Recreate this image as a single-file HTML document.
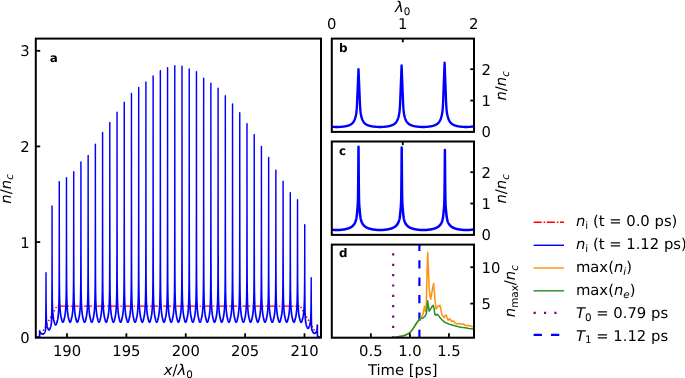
<!DOCTYPE html>
<html lang="en"><head><meta charset="utf-8"><title>Plasma density grating</title>
<style>html,body{margin:0;padding:0;background:#fff;overflow:hidden}svg{display:block}text{font-family:"DejaVu Sans", "Liberation Sans", sans-serif;fill:#000;text-rendering:geometricPrecision}.it{font-style:italic}.b{font-weight:bold}</style></head><body>
<svg width="685" height="378" viewBox="0 0 685 378">
<rect width="685" height="378" fill="#fff"/>
<defs>
<clipPath id="ca"><rect x="35.8" y="38.6" width="285.2" height="299.1"/></clipPath>
<clipPath id="cb"><rect x="331.8" y="38.6" width="142.2" height="93.3"/></clipPath>
<clipPath id="cc"><rect x="331.8" y="141.5" width="142.2" height="93.4"/></clipPath>
<clipPath id="cd"><rect x="331.8" y="244.6" width="142.2" height="93.1"/></clipPath>
</defs>
<g clip-path="url(#ca)" fill="none" stroke-linejoin="round">
<path d="M34.8,337.7L35.05,337.7L35.3,337.7L35.55,337.7L35.8,337.7L36.05,337.7L36.3,337.7L36.55,337.7L36.8,337.7L37.05,337.7L37.3,337.7L37.55,337.7L37.8,337.7L38.05,337.69L38.3,337.67L38.55,337.63L38.8,337.56L39.05,337.45L39.3,337.28L39.55,337.04L39.8,336.75L40.05,336.4L40.3,336L40.55,335.58L40.8,335.15L41.05,334.7L41.3,334.25L41.55,333.8L41.8,333.34L42.05,332.89L42.3,332.43L42.55,331.98L42.8,331.53L43.05,331.07L43.3,330.62L43.55,330.16L43.8,329.71L44.05,329.26L44.3,328.8L44.55,328.35L44.8,327.89L45.05,327.44L45.3,326.99L45.55,326.53L45.8,326.08L46.05,325.62L46.3,325.17L46.55,324.72L46.8,324.26L47.05,323.81L47.3,323.35L47.55,322.9L47.8,322.45L48.05,321.99L48.3,321.54L48.55,321.08L48.8,320.63L49.05,320.18L49.3,319.72L49.55,319.27L49.8,318.81L50.05,318.36L50.3,317.91L50.55,317.45L50.8,317L51.05,316.55L51.3,316.09L51.55,315.64L51.8,315.18L52.05,314.73L52.3,314.28L52.55,313.82L52.8,313.37L53.05,312.91L53.3,312.46L53.55,312.01L53.8,311.55L54.05,311.1L54.3,310.64L54.55,310.19L54.8,309.74L55.05,309.28L55.3,308.83L55.55,308.39L55.8,307.96L56.05,307.55L56.3,307.18L56.55,306.86L56.8,306.61L57.05,306.41L57.3,306.28" stroke="#ff0000" stroke-width="1.5" stroke-dasharray="1.5 2.2" stroke-dashoffset="-1"/>
<path d="M57.55,306.19L57.8,306.15L58.05,306.12L58.3,306.11L58.55,306.11L58.8,306.1L59.05,306.1L59.3,306.1L59.55,306.1L59.8,306.1L60.05,306.1L60.3,306.1L60.55,306.1L60.8,306.1L61.05,306.1L61.3,306.1L61.55,306.1L61.8,306.1L62.05,306.1L62.3,306.1L62.55,306.1L62.8,306.1L63.05,306.1L63.3,306.1L63.55,306.1L63.8,306.1L64.05,306.1L64.3,306.1L64.55,306.1L64.8,306.1L65.05,306.1L65.3,306.1L65.55,306.1L65.8,306.1L66.05,306.1L66.3,306.1L66.55,306.1L66.8,306.1L67.05,306.1L67.3,306.1L67.55,306.1L67.8,306.1L68.05,306.1L68.3,306.1L68.55,306.1L68.8,306.1L69.05,306.1L69.3,306.1L69.55,306.1L69.8,306.1L70.05,306.1L70.3,306.1L70.55,306.1L70.8,306.1L71.05,306.1L71.3,306.1L71.55,306.1L71.8,306.1L72.05,306.1L72.3,306.1L72.55,306.1L72.8,306.1L73.05,306.1L73.3,306.1L73.55,306.1L73.8,306.1L74.05,306.1L74.3,306.1L74.55,306.1L74.8,306.1L75.05,306.1L75.3,306.1L75.55,306.1L75.8,306.1L76.05,306.1L76.3,306.1L76.55,306.1L76.8,306.1L77.05,306.1L77.3,306.1L77.55,306.1L77.8,306.1L78.05,306.1L78.3,306.1L78.55,306.1L78.8,306.1L79.05,306.1L79.3,306.1L79.55,306.1L79.8,306.1L80.05,306.1L80.3,306.1L80.55,306.1L80.8,306.1L81.05,306.1L81.3,306.1L81.55,306.1L81.8,306.1L82.05,306.1L82.3,306.1L82.55,306.1L82.8,306.1L83.05,306.1L83.3,306.1L83.55,306.1L83.8,306.1L84.05,306.1L84.3,306.1L84.55,306.1L84.8,306.1L85.05,306.1L85.3,306.1L85.55,306.1L85.8,306.1L86.05,306.1L86.3,306.1L86.55,306.1L86.8,306.1L87.05,306.1L87.3,306.1L87.55,306.1L87.8,306.1L88.05,306.1L88.3,306.1L88.55,306.1L88.8,306.1L89.05,306.1L89.3,306.1L89.55,306.1L89.8,306.1L90.05,306.1L90.3,306.1L90.55,306.1L90.8,306.1L91.05,306.1L91.3,306.1L91.55,306.1L91.8,306.1L92.05,306.1L92.3,306.1L92.55,306.1L92.8,306.1L93.05,306.1L93.3,306.1L93.55,306.1L93.8,306.1L94.05,306.1L94.3,306.1L94.55,306.1L94.8,306.1L95.05,306.1L95.3,306.1L95.55,306.1L95.8,306.1L96.05,306.1L96.3,306.1L96.55,306.1L96.8,306.1L97.05,306.1L97.3,306.1L97.55,306.1L97.8,306.1L98.05,306.1L98.3,306.1L98.55,306.1L98.8,306.1L99.05,306.1L99.3,306.1L99.55,306.1L99.8,306.1L100.05,306.1L100.3,306.1L100.55,306.1L100.8,306.1L101.05,306.1L101.3,306.1L101.55,306.1L101.8,306.1L102.05,306.1L102.3,306.1L102.55,306.1L102.8,306.1L103.05,306.1L103.3,306.1L103.55,306.1L103.8,306.1L104.05,306.1L104.3,306.1L104.55,306.1L104.8,306.1L105.05,306.1L105.3,306.1L105.55,306.1L105.8,306.1L106.05,306.1L106.3,306.1L106.55,306.1L106.8,306.1L107.05,306.1L107.3,306.1L107.55,306.1L107.8,306.1L108.05,306.1L108.3,306.1L108.55,306.1L108.8,306.1L109.05,306.1L109.3,306.1L109.55,306.1L109.8,306.1L110.05,306.1L110.3,306.1L110.55,306.1L110.8,306.1L111.05,306.1L111.3,306.1L111.55,306.1L111.8,306.1L112.05,306.1L112.3,306.1L112.55,306.1L112.8,306.1L113.05,306.1L113.3,306.1L113.55,306.1L113.8,306.1L114.05,306.1L114.3,306.1L114.55,306.1L114.8,306.1L115.05,306.1L115.3,306.1L115.55,306.1L115.8,306.1L116.05,306.1L116.3,306.1L116.55,306.1L116.8,306.1L117.05,306.1L117.3,306.1L117.55,306.1L117.8,306.1L118.05,306.1L118.3,306.1L118.55,306.1L118.8,306.1L119.05,306.1L119.3,306.1L119.55,306.1L119.8,306.1L120.05,306.1L120.3,306.1L120.55,306.1L120.8,306.1L121.05,306.1L121.3,306.1L121.55,306.1L121.8,306.1L122.05,306.1L122.3,306.1L122.55,306.1L122.8,306.1L123.05,306.1L123.3,306.1L123.55,306.1L123.8,306.1L124.05,306.1L124.3,306.1L124.55,306.1L124.8,306.1L125.05,306.1L125.3,306.1L125.55,306.1L125.8,306.1L126.05,306.1L126.3,306.1L126.55,306.1L126.8,306.1L127.05,306.1L127.3,306.1L127.55,306.1L127.8,306.1L128.05,306.1L128.3,306.1L128.55,306.1L128.8,306.1L129.05,306.1L129.3,306.1L129.55,306.1L129.8,306.1L130.05,306.1L130.3,306.1L130.55,306.1L130.8,306.1L131.05,306.1L131.3,306.1L131.55,306.1L131.8,306.1L132.05,306.1L132.3,306.1L132.55,306.1L132.8,306.1L133.05,306.1L133.3,306.1L133.55,306.1L133.8,306.1L134.05,306.1L134.3,306.1L134.55,306.1L134.8,306.1L135.05,306.1L135.3,306.1L135.55,306.1L135.8,306.1L136.05,306.1L136.3,306.1L136.55,306.1L136.8,306.1L137.05,306.1L137.3,306.1L137.55,306.1L137.8,306.1L138.05,306.1L138.3,306.1L138.55,306.1L138.8,306.1L139.05,306.1L139.3,306.1L139.55,306.1L139.8,306.1L140.05,306.1L140.3,306.1L140.55,306.1L140.8,306.1L141.05,306.1L141.3,306.1L141.55,306.1L141.8,306.1L142.05,306.1L142.3,306.1L142.55,306.1L142.8,306.1L143.05,306.1L143.3,306.1L143.55,306.1L143.8,306.1L144.05,306.1L144.3,306.1L144.55,306.1L144.8,306.1L145.05,306.1L145.3,306.1L145.55,306.1L145.8,306.1L146.05,306.1L146.3,306.1L146.55,306.1L146.8,306.1L147.05,306.1L147.3,306.1L147.55,306.1L147.8,306.1L148.05,306.1L148.3,306.1L148.55,306.1L148.8,306.1L149.05,306.1L149.3,306.1L149.55,306.1L149.8,306.1L150.05,306.1L150.3,306.1L150.55,306.1L150.8,306.1L151.05,306.1L151.3,306.1L151.55,306.1L151.8,306.1L152.05,306.1L152.3,306.1L152.55,306.1L152.8,306.1L153.05,306.1L153.3,306.1L153.55,306.1L153.8,306.1L154.05,306.1L154.3,306.1L154.55,306.1L154.8,306.1L155.05,306.1L155.3,306.1L155.55,306.1L155.8,306.1L156.05,306.1L156.3,306.1L156.55,306.1L156.8,306.1L157.05,306.1L157.3,306.1L157.55,306.1L157.8,306.1L158.05,306.1L158.3,306.1L158.55,306.1L158.8,306.1L159.05,306.1L159.3,306.1L159.55,306.1L159.8,306.1L160.05,306.1L160.3,306.1L160.55,306.1L160.8,306.1L161.05,306.1L161.3,306.1L161.55,306.1L161.8,306.1L162.05,306.1L162.3,306.1L162.55,306.1L162.8,306.1L163.05,306.1L163.3,306.1L163.55,306.1L163.8,306.1L164.05,306.1L164.3,306.1L164.55,306.1L164.8,306.1L165.05,306.1L165.3,306.1L165.55,306.1L165.8,306.1L166.05,306.1L166.3,306.1L166.55,306.1L166.8,306.1L167.05,306.1L167.3,306.1L167.55,306.1L167.8,306.1L168.05,306.1L168.3,306.1L168.55,306.1L168.8,306.1L169.05,306.1L169.3,306.1L169.55,306.1L169.8,306.1L170.05,306.1L170.3,306.1L170.55,306.1L170.8,306.1L171.05,306.1L171.3,306.1L171.55,306.1L171.8,306.1L172.05,306.1L172.3,306.1L172.55,306.1L172.8,306.1L173.05,306.1L173.3,306.1L173.55,306.1L173.8,306.1L174.05,306.1L174.3,306.1L174.55,306.1L174.8,306.1L175.05,306.1L175.3,306.1L175.55,306.1L175.8,306.1L176.05,306.1L176.3,306.1L176.55,306.1L176.8,306.1L177.05,306.1L177.3,306.1L177.55,306.1L177.8,306.1L178.05,306.1L178.3,306.1L178.55,306.1L178.8,306.1L179.05,306.1L179.3,306.1L179.55,306.1L179.8,306.1L180.05,306.1L180.3,306.1L180.55,306.1L180.8,306.1L181.05,306.1L181.3,306.1L181.55,306.1L181.8,306.1L182.05,306.1L182.3,306.1L182.55,306.1L182.8,306.1L183.05,306.1L183.3,306.1L183.55,306.1L183.8,306.1L184.05,306.1L184.3,306.1L184.55,306.1L184.8,306.1L185.05,306.1L185.3,306.1L185.55,306.1L185.8,306.1L186.05,306.1L186.3,306.1L186.55,306.1L186.8,306.1L187.05,306.1L187.3,306.1L187.55,306.1L187.8,306.1L188.05,306.1L188.3,306.1L188.55,306.1L188.8,306.1L189.05,306.1L189.3,306.1L189.55,306.1L189.8,306.1L190.05,306.1L190.3,306.1L190.55,306.1L190.8,306.1L191.05,306.1L191.3,306.1L191.55,306.1L191.8,306.1L192.05,306.1L192.3,306.1L192.55,306.1L192.8,306.1L193.05,306.1L193.3,306.1L193.55,306.1L193.8,306.1L194.05,306.1L194.3,306.1L194.55,306.1L194.8,306.1L195.05,306.1L195.3,306.1L195.55,306.1L195.8,306.1L196.05,306.1L196.3,306.1L196.55,306.1L196.8,306.1L197.05,306.1L197.3,306.1L197.55,306.1L197.8,306.1L198.05,306.1L198.3,306.1L198.55,306.1L198.8,306.1L199.05,306.1L199.3,306.1L199.55,306.1L199.8,306.1L200.05,306.1L200.3,306.1L200.55,306.1L200.8,306.1L201.05,306.1L201.3,306.1L201.55,306.1L201.8,306.1L202.05,306.1L202.3,306.1L202.55,306.1L202.8,306.1L203.05,306.1L203.3,306.1L203.55,306.1L203.8,306.1L204.05,306.1L204.3,306.1L204.55,306.1L204.8,306.1L205.05,306.1L205.3,306.1L205.55,306.1L205.8,306.1L206.05,306.1L206.3,306.1L206.55,306.1L206.8,306.1L207.05,306.1L207.3,306.1L207.55,306.1L207.8,306.1L208.05,306.1L208.3,306.1L208.55,306.1L208.8,306.1L209.05,306.1L209.3,306.1L209.55,306.1L209.8,306.1L210.05,306.1L210.3,306.1L210.55,306.1L210.8,306.1L211.05,306.1L211.3,306.1L211.55,306.1L211.8,306.1L212.05,306.1L212.3,306.1L212.55,306.1L212.8,306.1L213.05,306.1L213.3,306.1L213.55,306.1L213.8,306.1L214.05,306.1L214.3,306.1L214.55,306.1L214.8,306.1L215.05,306.1L215.3,306.1L215.55,306.1L215.8,306.1L216.05,306.1L216.3,306.1L216.55,306.1L216.8,306.1L217.05,306.1L217.3,306.1L217.55,306.1L217.8,306.1L218.05,306.1L218.3,306.1L218.55,306.1L218.8,306.1L219.05,306.1L219.3,306.1L219.55,306.1L219.8,306.1L220.05,306.1L220.3,306.1L220.55,306.1L220.8,306.1L221.05,306.1L221.3,306.1L221.55,306.1L221.8,306.1L222.05,306.1L222.3,306.1L222.55,306.1L222.8,306.1L223.05,306.1L223.3,306.1L223.55,306.1L223.8,306.1L224.05,306.1L224.3,306.1L224.55,306.1L224.8,306.1L225.05,306.1L225.3,306.1L225.55,306.1L225.8,306.1L226.05,306.1L226.3,306.1L226.55,306.1L226.8,306.1L227.05,306.1L227.3,306.1L227.55,306.1L227.8,306.1L228.05,306.1L228.3,306.1L228.55,306.1L228.8,306.1L229.05,306.1L229.3,306.1L229.55,306.1L229.8,306.1L230.05,306.1L230.3,306.1L230.55,306.1L230.8,306.1L231.05,306.1L231.3,306.1L231.55,306.1L231.8,306.1L232.05,306.1L232.3,306.1L232.55,306.1L232.8,306.1L233.05,306.1L233.3,306.1L233.55,306.1L233.8,306.1L234.05,306.1L234.3,306.1L234.55,306.1L234.8,306.1L235.05,306.1L235.3,306.1L235.55,306.1L235.8,306.1L236.05,306.1L236.3,306.1L236.55,306.1L236.8,306.1L237.05,306.1L237.3,306.1L237.55,306.1L237.8,306.1L238.05,306.1L238.3,306.1L238.55,306.1L238.8,306.1L239.05,306.1L239.3,306.1L239.55,306.1L239.8,306.1L240.05,306.1L240.3,306.1L240.55,306.1L240.8,306.1L241.05,306.1L241.3,306.1L241.55,306.1L241.8,306.1L242.05,306.1L242.3,306.1L242.55,306.1L242.8,306.1L243.05,306.1L243.3,306.1L243.55,306.1L243.8,306.1L244.05,306.1L244.3,306.1L244.55,306.1L244.8,306.1L245.05,306.1L245.3,306.1L245.55,306.1L245.8,306.1L246.05,306.1L246.3,306.1L246.55,306.1L246.8,306.1L247.05,306.1L247.3,306.1L247.55,306.1L247.8,306.1L248.05,306.1L248.3,306.1L248.55,306.1L248.8,306.1L249.05,306.1L249.3,306.1L249.55,306.1L249.8,306.1L250.05,306.1L250.3,306.1L250.55,306.1L250.8,306.1L251.05,306.1L251.3,306.1L251.55,306.1L251.8,306.1L252.05,306.1L252.3,306.1L252.55,306.1L252.8,306.1L253.05,306.1L253.3,306.1L253.55,306.1L253.8,306.1L254.05,306.1L254.3,306.1L254.55,306.1L254.8,306.1L255.05,306.1L255.3,306.1L255.55,306.1L255.8,306.1L256.05,306.1L256.3,306.1L256.55,306.1L256.8,306.1L257.05,306.1L257.3,306.1L257.55,306.1L257.8,306.1L258.05,306.1L258.3,306.1L258.55,306.1L258.8,306.1L259.05,306.1L259.3,306.1L259.55,306.1L259.8,306.1L260.05,306.1L260.3,306.1L260.55,306.1L260.8,306.1L261.05,306.1L261.3,306.1L261.55,306.1L261.8,306.1L262.05,306.1L262.3,306.1L262.55,306.1L262.8,306.1L263.05,306.1L263.3,306.1L263.55,306.1L263.8,306.1L264.05,306.1L264.3,306.1L264.55,306.1L264.8,306.1L265.05,306.1L265.3,306.1L265.55,306.1L265.8,306.1L266.05,306.1L266.3,306.1L266.55,306.1L266.8,306.1L267.05,306.1L267.3,306.1L267.55,306.1L267.8,306.1L268.05,306.1L268.3,306.1L268.55,306.1L268.8,306.1L269.05,306.1L269.3,306.1L269.55,306.1L269.8,306.1L270.05,306.1L270.3,306.1L270.55,306.1L270.8,306.1L271.05,306.1L271.3,306.1L271.55,306.1L271.8,306.1L272.05,306.1L272.3,306.1L272.55,306.1L272.8,306.1L273.05,306.1L273.3,306.1L273.55,306.1L273.8,306.1L274.05,306.1L274.3,306.1L274.55,306.1L274.8,306.1L275.05,306.1L275.3,306.1L275.55,306.1L275.8,306.1L276.05,306.1L276.3,306.1L276.55,306.1L276.8,306.1L277.05,306.1L277.3,306.1L277.55,306.1L277.8,306.1L278.05,306.1L278.3,306.1L278.55,306.1L278.8,306.1L279.05,306.1L279.3,306.1L279.55,306.1L279.8,306.1L280.05,306.1L280.3,306.1L280.55,306.1L280.8,306.1L281.05,306.1L281.3,306.1L281.55,306.1L281.8,306.1L282.05,306.1L282.3,306.1L282.55,306.1L282.8,306.1L283.05,306.1L283.3,306.1L283.55,306.1L283.8,306.1L284.05,306.1L284.3,306.1L284.55,306.1L284.8,306.1L285.05,306.1L285.3,306.1L285.55,306.1L285.8,306.1L286.05,306.1L286.3,306.1L286.55,306.1L286.8,306.1L287.05,306.1L287.3,306.1L287.55,306.1L287.8,306.1L288.05,306.1L288.3,306.1L288.55,306.1L288.8,306.1L289.05,306.1L289.3,306.1L289.55,306.1L289.8,306.1L290.05,306.1L290.3,306.1L290.55,306.1L290.8,306.1L291.05,306.1L291.3,306.1L291.55,306.1L291.8,306.1L292.05,306.1L292.3,306.1L292.55,306.1L292.8,306.1L293.05,306.1L293.3,306.1L293.55,306.1L293.8,306.1L294.05,306.1L294.3,306.1L294.55,306.1L294.8,306.1L295.05,306.1L295.3,306.1L295.55,306.1L295.8,306.1L296.05,306.1L296.3,306.1L296.55,306.1L296.8,306.1L297.05,306.1L297.3,306.1L297.55,306.1L297.8,306.1L298.05,306.1L298.3,306.1L298.55,306.11L298.8,306.11L299.05,306.12L299.3,306.14L299.55,306.19" stroke="#ff0000" stroke-width="1.45" stroke-dasharray="8.1 1.9 1.6 1.6"/>
<path d="M299.8,306.27L300.05,306.4L300.3,306.58L300.55,306.83L300.8,307.13L301.05,307.48L301.3,307.87L301.55,308.28L301.8,308.7L302.05,309.13L302.3,309.56L302.55,309.99L302.8,310.42L303.05,310.85L303.3,311.28L303.55,311.72L303.8,312.15L304.05,312.58L304.3,313.01L304.55,313.44L304.8,313.87L305.05,314.31L305.3,314.74L305.55,315.17L305.8,315.6L306.05,316.03L306.3,316.46L306.55,316.89L306.8,317.33L307.05,317.76L307.3,318.19L307.55,318.62L307.8,319.05L308.05,319.48L308.3,319.92L308.55,320.35L308.8,320.78L309.05,321.21L309.3,321.64L309.55,322.07L309.8,322.51L310.05,322.94L310.3,323.37L310.55,323.8L310.8,324.23L311.05,324.66L311.3,325.1L311.55,325.53L311.8,325.96L312.05,326.39L312.3,326.82L312.55,327.25L312.8,327.69L313.05,328.12L313.3,328.55L313.55,328.98L313.8,329.41L314.05,329.84L314.3,330.28L314.55,330.71L314.8,331.14L315.05,331.57L315.3,332L315.55,332.43L315.8,332.87L316.05,333.3L316.3,333.73L316.55,334.16L316.8,334.59L317.05,335.02L317.3,335.44L317.55,335.85L317.8,336.24L318.05,336.6L318.3,336.92L318.55,337.17L318.8,337.37L319.05,337.51L319.3,337.6L319.55,337.65L319.8,337.68L320.05,337.69L320.3,337.7L320.55,337.7L320.8,337.7L321.05,337.7L321.3,337.7L321.55,337.7L321.8,337.7" stroke="#ff0000" stroke-width="1.5" stroke-dasharray="1.5 2.2" stroke-dashoffset="-1"/>
<defs><path id="ni" d="M35.8,337.18L35.9,337.19L36,337.2L36.1,337.21L36.2,337.21L36.3,337.22L36.4,337.22L36.5,337.22L36.6,337.22L36.7,337.22L36.8,337.22L36.9,337.21L37,337.21L37.1,337.2L37.2,337.19L37.3,337.18L37.4,337.16L37.5,337.15L37.6,337.13L37.7,337.12L37.8,337.1L37.9,337.09L38,337.07L38.1,337.06L38.2,337.04L38.3,337.02L38.4,337L38.5,336.97L38.6,336.94L38.7,336.91L38.8,336.87L38.9,336.83L39,336.78L39.1,336.72L39.2,336.63L39.3,336.52L39.4,336.35L39.5,336.01L39.6,335.09L39.65,333.98L39.68,332.62L39.7,330.9L39.7,330.9L39.72,331.06L39.75,331.27L39.8,331.58L39.9,332.08L40,332.39L40.1,332.59L40.2,332.75L40.3,332.89L40.4,333L40.5,333.09L40.6,333.18L40.7,333.25L40.8,333.33L40.9,333.39L41,333.46L41.1,333.52L41.2,333.57L41.3,333.62L41.4,333.67L41.5,333.71L41.6,333.76L41.7,333.81L41.8,333.85L41.9,333.9L42,333.94L42.1,333.99L42.2,334.03L42.3,334.07L42.4,334.1L42.5,334.12L42.6,334.14L42.7,334.15L42.8,334.16L42.9,334.16L43,334.15L43.1,334.12L43.2,334.08L43.3,334.03L43.4,333.97L43.5,333.9L43.6,333.81L43.7,333.71L43.8,333.6L43.9,333.49L44,333.39L44.1,333.27L44.2,333.16L44.3,333.04L44.4,332.92L44.5,332.78L44.6,332.63L44.7,332.45L44.8,332.25L44.9,332.03L45,331.78L45.1,331.5L45.2,331.18L45.3,330.78L45.4,330.29L45.5,329.63L45.6,328.72L45.7,327.36L45.8,324.64L45.9,316.79L45.95,306.59L45.98,292.7L46,272.7L46,272.7L46.02,283.4L46.05,293.85L46.1,304.06L46.2,314.08L46.3,318.04L46.4,320.2L46.5,321.73L46.6,322.86L46.7,323.72L46.8,324.42L46.9,325L47,325.52L47.1,325.97L47.2,326.39L47.3,326.77L47.4,327.1L47.5,327.38L47.6,327.64L47.7,327.89L47.8,328.12L47.9,328.35L48,328.58L48.1,328.8L48.2,329.03L48.3,329.23L48.4,329.42L48.5,329.58L48.6,329.71L48.7,329.81L48.8,329.88L48.9,329.93L49,329.95L49.1,329.94L49.2,329.91L49.3,329.84L49.4,329.75L49.5,329.62L49.6,329.46L49.7,329.28L49.8,329.06L49.9,328.83L50,328.58L50.1,328.34L50.2,328.09L50.3,327.83L50.4,327.56L50.5,327.28L50.6,326.98L50.7,326.64L50.8,326.24L50.9,325.78L51,325.28L51.1,324.72L51.2,324.07L51.3,323.31L51.4,322.38L51.5,321.19L51.6,319.53L51.7,317.24L51.8,313.44L51.9,303.79L52,273.25L52,271.59L52.03,245.32L52.05,205.9L52.07,228.6L52.1,250.5L52.1,251.93L52.2,284.29L52.3,297.85L52.4,303.7L52.5,307.17L52.6,309.67L52.7,311.62L52.8,313.11L52.9,314.32L53,315.34L53.1,316.22L53.2,316.99L53.3,317.69L53.4,318.33L53.5,318.92L53.6,319.47L53.7,319.95L53.8,320.37L53.9,320.76L54,321.12L54.1,321.46L54.2,321.8L54.3,322.13L54.4,322.46L54.5,322.78L54.6,323.1L54.7,323.41L54.8,323.7L54.9,323.97L55,324.2L55.1,324.4L55.2,324.57L55.3,324.7L55.4,324.8L55.5,324.86L55.6,324.9L55.7,324.9L55.8,324.87L55.9,324.81L56,324.71L56.1,324.58L56.2,324.42L56.3,324.22L56.4,323.99L56.5,323.72L56.6,323.43L56.7,323.11L56.8,322.78L56.9,322.46L57,322.13L57.1,321.79L57.2,321.44L57.3,321.09L57.4,320.72L57.5,320.33L57.6,319.9L57.7,319.42L57.8,318.86L57.9,318.25L58,317.6L58.1,316.89L58.2,316.09L58.3,315.2L58.4,314.16L58.5,312.93L58.6,311.42L58.7,309.45L58.8,306.89L58.9,303.39L59,297.67L59.1,284.37L59.2,252.03L59.22,241.1L59.25,212.88L59.27,181.6L59.29,207.96L59.3,220.19L59.32,233.58L59.4,268.64L59.5,287.44L59.6,295.62L59.7,300.16L59.8,303.32L59.9,305.8L60,307.67L60.1,309.18L60.2,310.45L60.3,311.54L60.4,312.49L60.5,313.35L60.6,314.13L60.7,314.85L60.8,315.53L60.9,316.13L61,316.64L61.1,317.11L61.2,317.55L61.3,317.98L61.4,318.39L61.5,318.79L61.6,319.18L61.7,319.56L61.8,319.95L61.9,320.33L62,320.69L62.1,321.02L62.2,321.31L62.3,321.56L62.4,321.77L62.5,321.93L62.6,322.06L62.7,322.15L62.8,322.2L62.9,322.21L63,322.18L63.1,322.11L63.2,322.01L63.3,321.86L63.4,321.68L63.5,321.45L63.6,321.18L63.7,320.87L63.8,320.53L63.9,320.16L64,319.77L64.1,319.38L64.2,318.99L64.3,318.6L64.4,318.19L64.5,317.77L64.6,317.34L64.7,316.89L64.8,316.4L64.9,315.85L65,315.21L65.1,314.5L65.2,313.75L65.3,312.93L65.4,312.03L65.5,311.01L65.6,309.84L65.7,308.47L65.8,306.8L65.9,304.67L66,301.88L66.1,298.2L66.2,292.47L66.3,280.23L66.4,252.52L66.44,231.99L66.47,205.4L66.49,177.8L66.5,196.41L66.51,205.4L66.54,231.99L66.6,262.05L66.7,284.39L66.8,294.21L66.9,299.25L67,302.64L67.1,305.27L67.2,307.26L67.3,308.84L67.4,310.15L67.5,311.28L67.6,312.27L67.7,313.14L67.8,313.94L67.9,314.68L68,315.38L68.1,315.99L68.2,316.52L68.3,317.01L68.4,317.45L68.5,317.88L68.6,318.29L68.7,318.7L68.8,319.09L68.9,319.48L69,319.87L69.1,320.25L69.2,320.62L69.3,320.95L69.4,321.25L69.5,321.51L69.6,321.73L69.7,321.9L69.8,322.04L69.9,322.13L70,322.19L70.1,322.21L70.2,322.19L70.3,322.13L70.4,322.03L70.5,321.89L70.6,321.71L70.7,321.49L70.8,321.23L70.9,320.93L71,320.59L71.1,320.23L71.2,319.84L71.3,319.45L71.4,319.06L71.5,318.66L71.6,318.25L71.7,317.83L71.8,317.4L71.9,316.95L72,316.47L72.1,315.93L72.2,315.3L72.3,314.6L72.4,313.85L72.5,313.04L72.6,312.15L72.7,311.15L72.8,310.01L72.9,308.66L73,307.05L73.1,305L73.2,302.31L73.3,298.82L73.4,293.55L73.5,283.07L73.6,259.05L73.66,229.51L73.69,201.35L73.7,184.15L73.71,171.7L73.73,201.35L73.76,229.51L73.8,253.24L73.9,280.55L74,292.51L74.1,298.18L74.2,301.85L74.3,304.65L74.4,306.78L74.5,308.44L74.6,309.82L74.7,310.99L74.8,312.01L74.9,312.92L75,313.74L75.1,314.49L75.2,315.2L75.3,315.84L75.4,316.39L75.5,316.88L75.6,317.34L75.7,317.77L75.8,318.19L75.9,318.6L76,319L76.1,319.39L76.2,319.78L76.3,320.17L76.4,320.54L76.5,320.88L76.6,321.19L76.7,321.46L76.8,321.68L76.9,321.87L77,322.01L77.1,322.12L77.2,322.18L77.3,322.21L77.4,322.19L77.5,322.14L77.6,322.05L77.7,321.92L77.8,321.75L77.9,321.54L78,321.28L78.1,320.99L78.2,320.65L78.3,320.29L78.4,319.9L78.5,319.51L78.6,319.12L78.7,318.71L78.8,318.31L78.9,317.89L79,317.46L79.1,317.01L79.2,316.52L79.3,315.99L79.4,315.38L79.5,314.68L79.6,313.94L79.7,313.13L79.8,312.25L79.9,311.26L80,310.13L80.1,308.81L80.2,307.23L80.3,305.26L80.4,302.65L80.5,299.29L80.6,294.39L80.7,285.31L80.8,264.03L80.88,225.7L80.9,204.16L80.91,195.02L80.93,162L80.95,195.02L80.98,225.7L81,240.89L81.1,275.64L81.2,290.4L81.3,296.89L81.4,300.93L81.5,303.92L81.6,306.22L81.7,307.98L81.8,309.43L81.9,310.66L82,311.72L82.1,312.66L82.2,313.5L82.3,314.28L82.4,315L82.5,315.67L82.6,316.24L82.7,316.75L82.8,317.21L82.9,317.65L83,318.08L83.1,318.49L83.2,318.9L83.3,319.29L83.4,319.68L83.5,320.08L83.6,320.46L83.7,320.81L83.8,321.13L83.9,321.4L84,321.64L84.1,321.83L84.2,321.99L84.3,322.1L84.4,322.17L84.5,322.21L84.6,322.2L84.7,322.16L84.8,322.07L84.9,321.95L85,321.79L85.1,321.58L85.2,321.33L85.3,321.05L85.4,320.72L85.5,320.36L85.6,319.97L85.7,319.57L85.8,319.18L85.9,318.78L86,318.37L86.1,317.95L86.2,317.52L86.3,317.08L86.4,316.6L86.5,316.07L86.6,315.48L86.7,314.79L86.8,314.05L86.9,313.25L87,312.37L87.1,311.4L87.2,310.29L87.3,309.01L87.4,307.47L87.5,305.58L87.6,303.07L87.7,299.86L87.8,295.31L87.9,287.46L88,268.81L88.1,223.21L88.1,221L88.13,190.8L88.15,155.4L88.17,190.8L88.2,223.21L88.2,225.33L88.3,270.18L88.4,288.05L88.5,295.61L88.6,300.05L88.7,303.22L88.8,305.69L88.9,307.56L89,309.08L89.1,310.36L89.2,311.46L89.3,312.42L89.4,313.29L89.5,314.09L89.6,314.82L89.7,315.51L89.8,316.1L89.9,316.62L90,317.1L90.1,317.55L90.2,317.98L90.3,318.39L90.4,318.8L90.5,319.2L90.6,319.59L90.7,319.99L90.8,320.38L90.9,320.74L91,321.06L91.1,321.35L91.2,321.59L91.3,321.8L91.4,321.96L91.5,322.08L91.6,322.16L91.7,322.2L91.8,322.2L91.9,322.17L92,322.09L92.1,321.98L92.2,321.82L92.3,321.62L92.4,321.38L92.5,321.1L92.6,320.78L92.7,320.42L92.8,320.04L92.9,319.64L93,319.24L93.1,318.84L93.2,318.43L93.3,318.01L93.4,317.58L93.5,317.13L93.6,316.66L93.7,316.14L93.8,315.55L93.9,314.87L94,314.13L94.1,313.34L94.2,312.47L94.3,311.51L94.4,310.42L94.5,309.15L94.6,307.65L94.7,305.82L94.8,303.42L94.9,300.29L95,296.02L95.1,289.02L95.2,272.7L95.3,232.69L95.32,219.13L95.35,183.78L95.37,144.2L95.39,183.78L95.4,201.1L95.42,219.13L95.5,263.18L95.6,284.92L95.7,294.02L95.8,298.99L95.9,302.41L96,305.06L96.1,307.06L96.2,308.66L96.3,310L96.4,311.15L96.5,312.15L96.6,313.05L96.7,313.86L96.8,314.62L96.9,315.33L97,315.94L97.1,316.48L97.2,316.97L97.3,317.43L97.4,317.86L97.5,318.28L97.6,318.7L97.7,319.1L97.8,319.5L97.9,319.9L98,320.29L98.1,320.66L98.2,320.99L98.3,321.29L98.4,321.54L98.5,321.76L98.6,321.93L98.7,322.06L98.8,322.15L98.9,322.2L99,322.21L99.1,322.18L99.2,322.11L99.3,322L99.4,321.85L99.5,321.66L99.6,321.43L99.7,321.15L99.8,320.84L99.9,320.49L100,320.1L100.1,319.7L100.2,319.3L100.3,318.9L100.4,318.49L100.5,318.07L100.6,317.64L100.7,317.19L100.8,316.72L100.9,316.2L101,315.63L101.1,314.96L101.2,314.22L101.3,313.43L101.4,312.57L101.5,311.62L101.6,310.55L101.7,309.3L101.8,307.84L101.9,306.06L102,303.76L102.1,300.72L102.2,296.69L102.3,290.3L102.4,276.26L102.5,242.3L102.54,215.05L102.57,176.58L102.59,132.4L102.6,162.83L102.61,176.58L102.64,215.05L102.7,254.4L102.8,281.13L102.9,292.27L103,297.86L103.1,301.55L103.2,304.4L103.3,306.55L103.4,308.23L103.5,309.64L103.6,310.83L103.7,311.87L103.8,312.8L103.9,313.64L104,314.42L104.1,315.14L104.2,315.78L104.3,316.34L104.4,316.84L104.5,317.3L104.6,317.75L104.7,318.18L104.8,318.59L104.9,319L105,319.4L105.1,319.8L105.2,320.2L105.3,320.58L105.4,320.92L105.5,321.23L105.6,321.49L105.7,321.72L105.8,321.9L105.9,322.03L106,322.13L106.1,322.19L106.2,322.21L106.3,322.19L106.4,322.13L106.5,322.03L106.6,321.89L106.7,321.7L106.8,321.48L106.9,321.21L107,320.9L107.1,320.55L107.2,320.17L107.3,319.77L107.4,319.37L107.5,318.97L107.6,318.56L107.7,318.13L107.8,317.7L107.9,317.26L108,316.79L108.1,316.28L108.2,315.72L108.3,315.06L108.4,314.33L108.5,313.55L108.6,312.7L108.7,311.76L108.8,310.7L108.9,309.48L109,308.05L109.1,306.33L109.2,304.13L109.3,301.2L109.4,297.38L109.5,291.54L109.6,279.6L109.7,250.68L109.76,211.78L109.79,170.69L109.8,143.25L109.81,122.5L109.83,170.69L109.86,211.78L109.9,243.39L110,276.71L110.1,290.38L110.2,296.69L110.3,300.71L110.4,303.74L110.5,306.04L110.6,307.82L110.7,309.29L110.8,310.53L110.9,311.61L111,312.56L111.1,313.43L111.2,314.22L111.3,314.96L111.4,315.63L111.5,316.2L111.6,316.72L111.7,317.19L111.8,317.64L111.9,318.07L112,318.49L112.1,318.91L112.2,319.31L112.3,319.71L112.4,320.11L112.5,320.5L112.6,320.85L112.7,321.17L112.8,321.44L112.9,321.67L113,321.86L113.1,322.01L113.2,322.11L113.3,322.18L113.4,322.21L113.5,322.19L113.6,322.14L113.7,322.05L113.8,321.92L113.9,321.74L114,321.52L114.1,321.26L114.2,320.96L114.3,320.62L114.4,320.24L114.5,319.84L114.6,319.44L114.7,319.04L114.8,318.62L114.9,318.2L115,317.77L115.1,317.32L115.2,316.86L115.3,316.36L115.4,315.8L115.5,315.17L115.6,314.44L115.7,313.66L115.8,312.82L115.9,311.89L116,310.85L116.1,309.66L116.2,308.27L116.3,306.59L116.4,304.48L116.5,301.67L116.6,298.04L116.7,292.66L116.8,282.49L116.9,257.59L116.98,208.52L117,178.1L117.01,164.69L117.03,112.2L117.05,164.69L117.08,208.52L117.1,228.71L117.2,271.39L117.3,288.23L117.4,295.42L117.5,299.82L117.6,303.05L117.7,305.51L117.8,307.39L117.9,308.93L118,310.22L118.1,311.34L118.2,312.32L118.3,313.21L118.4,314.02L118.5,314.78L118.6,315.47L118.7,316.06L118.8,316.59L118.9,317.07L119,317.53L119.1,317.97L119.2,318.39L119.3,318.81L119.4,319.22L119.5,319.62L119.6,320.03L119.7,320.42L119.8,320.78L119.9,321.1L120,321.39L120.1,321.63L120.2,321.83L120.3,321.98L120.4,322.1L120.5,322.17L120.6,322.21L120.7,322.2L120.8,322.16L120.9,322.07L121,321.95L121.1,321.78L121.2,321.57L121.3,321.32L121.4,321.02L121.5,320.68L121.6,320.31L121.7,319.92L121.8,319.51L121.9,319.11L122,318.69L122.1,318.27L122.2,317.84L122.3,317.39L122.4,316.93L122.5,316.44L122.6,315.89L122.7,315.27L122.8,314.55L122.9,313.78L123,312.95L123.1,312.03L123.2,311.01L123.3,309.84L123.4,308.48L123.5,306.86L123.6,304.84L123.7,302.15L123.8,298.67L123.9,293.71L124,284.97L124.1,263.43L124.2,205.51L124.2,202.42L124.23,159.06L124.25,102.3L124.27,159.06L124.3,205.51L124.3,208.45L124.4,265.09L124.5,285.66L124.6,294.04L124.7,298.89L124.8,302.32L124.9,304.96L125,306.95L125.1,308.56L125.2,309.91L125.3,311.07L125.4,312.08L125.5,312.99L125.6,313.82L125.7,314.59L125.8,315.31L125.9,315.92L126,316.46L126.1,316.96L126.2,317.42L126.3,317.86L126.4,318.29L126.5,318.72L126.6,319.13L126.7,319.53L126.8,319.94L126.9,320.33L127,320.7L127.1,321.04L127.2,321.33L127.3,321.58L127.4,321.79L127.5,321.95L127.6,322.08L127.7,322.16L127.8,322.2L127.9,322.2L128,322.17L128.1,322.09L128.2,321.97L128.3,321.81L128.4,321.61L128.5,321.37L128.6,321.08L128.7,320.75L128.8,320.38L128.9,319.99L129,319.58L129.1,319.18L129.2,318.77L129.3,318.34L129.4,317.91L129.5,317.47L129.6,317.01L129.7,316.52L129.8,315.98L129.9,315.38L130,314.67L130.1,313.91L130.2,313.08L130.3,312.18L130.4,311.18L130.5,310.04L130.6,308.71L130.7,307.13L130.8,305.19L130.9,302.65L131,299.31L131.1,294.7L131.2,287.06L131.3,268.69L131.4,220.4L131.42,202.93L131.45,154.15L131.47,93.5L131.49,154.15L131.5,178.75L131.52,202.93L131.6,257.69L131.7,282.53L131.8,292.54L131.9,297.92L132,301.57L132.1,304.4L132.2,306.51L132.3,308.2L132.4,309.6L132.5,310.8L132.6,311.85L132.7,312.78L132.8,313.63L132.9,314.41L133,315.15L133.1,315.78L133.2,316.34L133.3,316.84L133.4,317.31L133.5,317.76L133.6,318.2L133.7,318.62L133.8,319.04L133.9,319.44L134,319.85L134.1,320.25L134.2,320.63L134.3,320.97L134.4,321.27L134.5,321.53L134.6,321.75L134.7,321.92L134.8,322.05L134.9,322.15L135,322.2L135.1,322.21L135.2,322.18L135.3,322.11L135.4,322L135.5,321.85L135.6,321.65L135.7,321.42L135.8,321.14L135.9,320.82L136,320.46L136.1,320.07L136.2,319.66L136.3,319.25L136.4,318.84L136.5,318.42L136.6,317.99L136.7,317.55L136.8,317.09L136.9,316.61L137,316.08L137.1,315.49L137.2,314.8L137.3,314.05L137.4,313.23L137.5,312.34L137.6,311.36L137.7,310.24L137.8,308.95L137.9,307.43L138,305.56L138.1,303.15L138.2,299.95L138.3,295.67L138.4,288.82L138.5,273.45L138.6,234.45L138.64,201.2L138.67,150.8L138.69,87.4L138.7,131.93L138.71,150.8L138.74,201.2L138.8,248.71L138.9,278.85L139,290.94L139.1,296.92L139.2,300.84L139.3,303.83L139.4,306.08L139.5,307.84L139.6,309.3L139.7,310.54L139.8,311.62L139.9,312.58L140,313.44L140.1,314.24L140.2,314.99L140.3,315.65L140.4,316.22L140.5,316.73L140.6,317.21L140.7,317.66L140.8,318.1L140.9,318.53L141,318.95L141.1,319.35L141.2,319.76L141.3,320.17L141.4,320.55L141.5,320.9L141.6,321.21L141.7,321.48L141.8,321.71L141.9,321.89L142,322.03L142.1,322.13L142.2,322.19L142.3,322.21L142.4,322.19L142.5,322.13L142.6,322.02L142.7,321.88L142.8,321.7L142.9,321.47L143,321.2L143.1,320.88L143.2,320.53L143.3,320.14L143.4,319.74L143.5,319.33L143.6,318.92L143.7,318.5L143.8,318.07L143.9,317.63L144,317.17L144.1,316.7L144.2,316.18L144.3,315.6L144.4,314.93L144.5,314.18L144.6,313.38L144.7,312.5L144.8,311.54L144.9,310.45L145,309.19L145.1,307.71L145.2,305.92L145.3,303.63L145.4,300.58L145.5,296.57L145.6,290.38L145.7,277.55L145.8,245.4L145.86,199.67L145.89,147.82L145.9,110.78L145.91,81.9L145.93,147.82L145.96,199.67L146,237.13L146.1,274.43L146.2,289.16L146.3,295.84L146.4,300.07L146.5,303.24L146.6,305.63L146.7,307.47L146.8,308.99L146.9,310.28L147,311.39L147.1,312.37L147.2,313.26L147.3,314.07L147.4,314.83L147.5,315.51L147.6,316.1L147.7,316.62L147.8,317.11L147.9,317.56L148,318.01L148.1,318.44L148.2,318.86L148.3,319.27L148.4,319.68L148.5,320.09L148.6,320.47L148.7,320.83L148.8,321.15L148.9,321.43L149,321.67L149.1,321.86L149.2,322.01L149.3,322.11L149.4,322.18L149.5,322.21L149.6,322.19L149.7,322.14L149.8,322.05L149.9,321.91L150,321.74L150.1,321.52L150.2,321.25L150.3,320.95L150.4,320.6L150.5,320.22L150.6,319.82L150.7,319.4L150.8,319L150.9,318.58L151,318.15L151.1,317.71L151.2,317.26L151.3,316.78L151.4,316.27L151.5,315.71L151.6,315.06L151.7,314.32L151.8,313.52L151.9,312.66L152,311.71L152.1,310.65L152.2,309.43L152.3,307.99L152.4,306.27L152.5,304.09L152.6,301.18L152.7,297.39L152.8,291.77L152.9,281L153,254L153.08,198.06L153.1,161.23L153.11,144.66L153.13,76L153.15,144.66L153.18,198.06L153.2,221.62L153.3,269.12L153.4,287.11L153.5,294.66L153.6,299.26L153.7,302.61L153.8,305.15L153.9,307.09L154,308.67L154.1,310L154.2,311.15L154.3,312.16L154.4,313.06L154.5,313.89L154.6,314.66L154.7,315.37L154.8,315.98L154.9,316.51L155,317L155.1,317.47L155.2,317.91L155.3,318.34L155.4,318.77L155.5,319.18L155.6,319.59L155.7,320L155.8,320.4L155.9,320.76L156,321.09L156.1,321.38L156.2,321.62L156.3,321.82L156.4,321.98L156.5,322.1L156.6,322.17L156.7,322.21L156.8,322.2L156.9,322.16L157,322.07L157.1,321.94L157.2,321.77L157.3,321.56L157.4,321.31L157.5,321.01L157.6,320.67L157.7,320.3L157.8,319.89L157.9,319.48L158,319.07L158.1,318.66L158.2,318.23L158.3,317.79L158.4,317.34L158.5,316.87L158.6,316.37L158.7,315.82L158.8,315.19L158.9,314.46L159,313.67L159.1,312.82L159.2,311.89L159.3,310.85L159.4,309.66L159.5,308.27L159.6,306.6L159.7,304.53L159.8,301.76L159.9,298.17L160,293.02L160.1,283.88L160.2,260.98L160.3,196.65L160.3,193.01L160.33,141.86L160.35,70.7L160.37,141.86L160.4,196.65L160.4,200.1L160.5,262.81L160.6,284.62L160.7,293.37L160.8,298.4L160.9,301.94L161,304.65L161.1,306.7L161.2,308.35L161.3,309.73L161.4,310.91L161.5,311.94L161.6,312.87L161.7,313.72L161.8,314.5L161.9,315.22L162,315.85L162.1,316.4L162.2,316.9L162.3,317.37L162.4,317.82L162.5,318.25L162.6,318.68L162.7,319.1L162.8,319.5L162.9,319.92L163,320.32L163.1,320.69L163.2,321.03L163.3,321.32L163.4,321.58L163.5,321.78L163.6,321.95L163.7,322.08L163.8,322.16L163.9,322.2L164,322.2L164.1,322.17L164.2,322.09L164.3,321.97L164.4,321.81L164.5,321.61L164.6,321.36L164.7,321.07L164.8,320.74L164.9,320.37L165,319.97L165.1,319.56L165.2,319.15L165.3,318.74L165.4,318.31L165.5,317.88L165.6,317.43L165.7,316.96L165.8,316.47L165.9,315.93L166,315.31L166.1,314.6L166.2,313.83L166.3,312.99L166.4,312.07L166.5,311.05L166.6,309.89L166.7,308.55L166.8,306.94L166.9,304.96L167,302.36L167.1,298.93L167.2,294.2L167.3,286.3L167.4,267.1L167.5,215.14L167.52,195.89L167.55,140.34L167.57,67.8L167.59,140.34L167.6,168.77L167.62,195.89L167.7,255.51L167.8,281.62L167.9,291.98L168,297.51L168.1,301.26L168.2,304.15L168.3,306.31L168.4,308.03L168.5,309.45L168.6,310.67L168.7,311.74L168.8,312.68L168.9,313.54L169,314.34L169.1,315.08L169.2,315.73L169.3,316.29L169.4,316.8L169.5,317.27L169.6,317.72L169.7,318.16L169.8,318.59L169.9,319.01L170,319.42L170.1,319.83L170.2,320.24L170.3,320.62L170.4,320.96L170.5,321.27L170.6,321.53L170.7,321.75L170.8,321.92L170.9,322.05L171,322.15L171.1,322.2L171.2,322.21L171.3,322.18L171.4,322.11L171.5,322L171.6,321.85L171.7,321.65L171.8,321.41L171.9,321.13L172,320.81L172.1,320.45L172.2,320.05L172.3,319.64L172.4,319.23L172.5,318.82L172.6,318.4L172.7,317.96L172.8,317.52L172.9,317.05L173,316.57L173.1,316.04L173.2,315.44L173.3,314.74L173.4,313.98L173.5,313.15L173.6,312.26L173.7,311.26L173.8,310.13L173.9,308.82L174,307.27L174.1,305.38L174.2,302.92L174.3,299.66L174.4,295.28L174.5,288.25L174.6,272.35L174.7,231.23L174.74,195.34L174.77,139.24L174.79,65.7L174.8,117.92L174.81,139.24L174.84,195.34L174.9,246.46L175,277.98L175.1,290.45L175.2,296.57L175.3,300.57L175.4,303.62L175.5,305.9L175.6,307.69L175.7,309.18L175.8,310.43L175.9,311.52L176,312.49L176.1,313.37L176.2,314.18L176.3,314.93L176.4,315.6L176.5,316.18L176.6,316.69L176.7,317.17L176.8,317.63L176.9,318.07L177,318.5L177.1,318.93L177.2,319.34L177.3,319.75L177.4,320.16L177.5,320.54L177.6,320.89L177.7,321.21L177.8,321.48L177.9,321.71L178,321.89L178.1,322.03L178.2,322.13L178.3,322.19L178.4,322.21L178.5,322.19L178.6,322.13L178.7,322.02L178.8,321.88L178.9,321.69L179,321.46L179.1,321.19L179.2,320.88L179.3,320.52L179.4,320.13L179.5,319.73L179.6,319.32L179.7,318.9L179.8,318.48L179.9,318.05L180,317.61L180.1,317.15L180.2,316.67L180.3,316.15L180.4,315.57L180.5,314.89L180.6,314.14L180.7,313.33L180.8,312.44L180.9,311.47L181,310.37L181.1,309.1L181.2,307.61L181.3,305.8L181.4,303.48L181.5,300.38L181.6,296.31L181.7,290.01L181.8,276.88L181.9,243.62L181.96,195.45L181.99,139.45L182,98.28L182.01,66.1L182.03,139.45L182.06,195.45L182.1,235.06L182.2,273.71L182.3,288.77L182.4,295.58L182.5,299.87L182.6,303.08L182.7,305.5L182.8,307.37L182.9,308.9L183,310.2L183.1,311.32L183.2,312.31L183.3,313.2L183.4,314.02L183.5,314.79L183.6,315.48L183.7,316.07L183.8,316.6L183.9,317.08L184,317.54L184.1,317.99L184.2,318.42L184.3,318.84L184.4,319.26L184.5,319.67L184.6,320.08L184.7,320.47L184.8,320.83L184.9,321.15L185,321.43L185.1,321.66L185.2,321.86L185.3,322.01L185.4,322.11L185.5,322.18L185.6,322.21L185.7,322.19L185.8,322.14L185.9,322.05L186,321.91L186.1,321.73L186.2,321.51L186.3,321.25L186.4,320.94L186.5,320.6L186.6,320.22L186.7,319.81L186.8,319.4L186.9,318.99L187,318.57L187.1,318.14L187.2,317.7L187.3,317.25L187.4,316.77L187.5,316.26L187.6,315.69L187.7,315.04L187.8,314.3L187.9,313.5L188,312.64L188.1,311.68L188.2,310.61L188.3,309.39L188.4,307.95L188.5,306.21L188.6,304.02L188.7,301.09L188.8,297.28L188.9,291.61L189,280.73L189.1,253.35L189.18,196.18L189.2,157.99L189.21,140.91L189.23,68.9L189.25,140.91L189.28,196.18L189.3,220.41L189.4,268.74L189.5,286.92L189.6,294.54L189.7,299.16L189.8,302.53L189.9,305.09L190,307.04L190.1,308.63L190.2,309.97L190.3,311.12L190.4,312.13L190.5,313.04L190.6,313.87L190.7,314.65L190.8,315.35L190.9,315.96L191,316.5L191.1,316.99L191.2,317.46L191.3,317.9L191.4,318.34L191.5,318.76L191.6,319.18L191.7,319.59L191.8,320L191.9,320.39L192,320.76L192.1,321.09L192.2,321.38L192.3,321.62L192.4,321.82L192.5,321.98L192.6,322.1L192.7,322.17L192.8,322.21L192.9,322.2L193,322.16L193.1,322.07L193.2,321.94L193.3,321.77L193.4,321.56L193.5,321.31L193.6,321.01L193.7,320.67L193.8,320.3L193.9,319.89L194,319.48L194.1,319.07L194.2,318.66L194.3,318.23L194.4,317.79L194.5,317.34L194.6,316.87L194.7,316.37L194.8,315.82L194.9,315.19L195,314.46L195.1,313.67L195.2,312.83L195.3,311.89L195.4,310.85L195.5,309.66L195.6,308.27L195.7,306.6L195.8,304.53L195.9,301.77L196,298.18L196.1,293.03L196.2,283.9L196.3,261.02L196.4,196.89L196.4,193.17L196.43,142.33L196.45,71.6L196.47,142.33L196.5,196.89L196.5,200.41L196.6,262.89L196.7,284.66L196.8,293.39L196.9,298.41L197,301.95L197.1,304.66L197.2,306.71L197.3,308.35L197.4,309.73L197.5,310.91L197.6,311.95L197.7,312.88L197.8,313.72L197.9,314.5L198,315.23L198.1,315.85L198.2,316.4L198.3,316.9L198.4,317.37L198.5,317.82L198.6,318.25L198.7,318.68L198.8,319.1L198.9,319.51L199,319.92L199.1,320.32L199.2,320.69L199.3,321.03L199.4,321.32L199.5,321.58L199.6,321.78L199.7,321.95L199.8,322.08L199.9,322.16L200,322.2L200.1,322.2L200.2,322.17L200.3,322.09L200.4,321.97L200.5,321.81L200.6,321.61L200.7,321.36L200.8,321.07L200.9,320.74L201,320.38L201.1,319.98L201.2,319.57L201.3,319.16L201.4,318.75L201.5,318.32L201.6,317.89L201.7,317.44L201.8,316.98L201.9,316.49L202,315.95L202.1,315.34L202.2,314.63L202.3,313.86L202.4,313.02L202.5,312.11L202.6,311.1L202.7,309.95L202.8,308.61L202.9,307.01L203,305.05L203.1,302.46L203.2,299.07L203.3,294.39L203.4,286.58L203.5,267.69L203.6,217.12L203.62,198.66L203.65,145.84L203.67,78.2L203.69,145.84L203.7,172.87L203.72,198.66L203.8,256.39L203.9,281.98L204,292.21L204.1,297.67L204.2,301.38L204.3,304.25L204.4,306.39L204.5,308.09L204.6,309.51L204.7,310.72L204.8,311.78L204.9,312.72L205,313.58L205.1,314.37L205.2,315.11L205.3,315.75L205.4,316.31L205.5,316.81L205.6,317.29L205.7,317.74L205.8,318.18L205.9,318.6L206,319.02L206.1,319.43L206.2,319.84L206.3,320.24L206.4,320.62L206.5,320.96L206.6,321.27L206.7,321.53L206.8,321.75L206.9,321.92L207,322.05L207.1,322.15L207.2,322.2L207.3,322.21L207.4,322.18L207.5,322.11L207.6,322L207.7,321.85L207.8,321.65L207.9,321.42L208,321.14L208.1,320.81L208.2,320.45L208.3,320.06L208.4,319.66L208.5,319.25L208.6,318.84L208.7,318.41L208.8,317.98L208.9,317.54L209,317.08L209.1,316.6L209.2,316.07L209.3,315.48L209.4,314.79L209.5,314.03L209.6,313.21L209.7,312.32L209.8,311.34L209.9,310.22L210,308.92L210.1,307.39L210.2,305.52L210.3,303.1L210.4,299.89L210.5,295.58L210.6,288.69L210.7,273.2L210.8,233.72L210.84,200.03L210.87,148.52L210.89,83.2L210.9,129.52L210.91,148.52L210.94,200.03L211,248.31L211.1,278.69L211.2,290.85L211.3,296.85L211.4,300.78L211.5,303.79L211.6,306.04L211.7,307.81L211.8,309.28L211.9,310.52L212,311.6L212.1,312.56L212.2,313.43L212.3,314.23L212.4,314.98L212.5,315.64L212.6,316.21L212.7,316.73L212.8,317.2L212.9,317.66L213,318.1L213.1,318.52L213.2,318.94L213.3,319.35L213.4,319.76L213.5,320.17L213.6,320.55L213.7,320.9L213.8,321.21L213.9,321.48L214,321.71L214.1,321.89L214.2,322.03L214.3,322.13L214.4,322.19L214.5,322.21L214.6,322.19L214.7,322.13L214.8,322.02L214.9,321.88L215,321.7L215.1,321.47L215.2,321.2L215.3,320.88L215.4,320.53L215.5,320.15L215.6,319.74L215.7,319.33L215.8,318.93L215.9,318.51L216,318.08L216.1,317.64L216.2,317.18L216.3,316.71L216.4,316.19L216.5,315.62L216.6,314.95L216.7,314.2L216.8,313.4L216.9,312.53L217,311.57L217.1,310.48L217.2,309.23L217.3,307.76L217.4,305.98L217.5,303.7L217.6,300.66L217.7,296.67L217.8,290.53L217.9,277.81L218,246.09L218.06,201.45L218.09,151.29L218.1,115.36L218.11,88.3L218.13,151.29L218.16,201.45L218.2,238.12L218.3,274.78L218.4,289.34L218.5,295.97L218.6,300.16L218.7,303.31L218.8,305.69L218.9,307.52L219,309.04L219.1,310.31L219.2,311.42L219.3,312.4L219.4,313.28L219.5,314.09L219.6,314.85L219.7,315.53L219.8,316.11L219.9,316.64L220,317.12L220.1,317.57L220.2,318.02L220.3,318.45L220.4,318.87L220.5,319.28L220.6,319.68L220.7,320.09L220.8,320.48L220.9,320.84L221,321.15L221.1,321.43L221.2,321.67L221.3,321.86L221.4,322.01L221.5,322.11L221.6,322.18L221.7,322.21L221.8,322.19L221.9,322.14L222,322.05L222.1,321.91L222.2,321.74L222.3,321.52L222.4,321.26L222.5,320.95L222.6,320.61L222.7,320.23L222.8,319.83L222.9,319.42L223,319.02L223.1,318.6L223.2,318.17L223.3,317.74L223.4,317.29L223.5,316.82L223.6,316.32L223.7,315.76L223.8,315.11L223.9,314.38L224,313.59L224.1,312.74L224.2,311.8L224.3,310.75L224.4,309.54L224.5,308.13L224.6,306.43L224.7,304.29L224.8,301.42L224.9,297.71L225,292.21L225.1,281.74L225.2,255.79L225.28,203.57L225.3,169.91L225.31,155.37L225.33,95.7L225.35,155.37L225.38,203.57L225.4,225.45L225.5,270.33L225.6,287.7L225.7,295.06L225.8,299.55L225.9,302.84L226,305.34L226.1,307.25L226.2,308.81L226.3,310.12L226.4,311.25L226.5,312.24L226.6,313.14L226.7,313.96L226.8,314.72L226.9,315.42L227,316.02L227.1,316.55L227.2,317.04L227.3,317.5L227.4,317.94L227.5,318.37L227.6,318.79L227.7,319.2L227.8,319.61L227.9,320.01L228,320.41L228.1,320.77L228.2,321.1L228.3,321.38L228.4,321.62L228.5,321.82L228.6,321.98L228.7,322.1L228.8,322.17L228.9,322.21L229,322.2L229.1,322.16L229.2,322.07L229.3,321.95L229.4,321.78L229.5,321.57L229.6,321.31L229.7,321.02L229.8,320.68L229.9,320.31L230,319.92L230.1,319.51L230.2,319.11L230.3,318.69L230.4,318.27L230.5,317.84L230.6,317.4L230.7,316.93L230.8,316.44L230.9,315.9L231,315.28L231.1,314.56L231.2,313.79L231.3,312.95L231.4,312.04L231.5,311.02L231.6,309.85L231.7,308.49L231.8,306.87L231.9,304.85L232,302.17L232.1,298.7L232.2,293.74L232.3,285L232.4,263.51L232.5,205.99L232.5,202.69L232.53,159.96L232.55,103.9L232.57,159.96L232.6,205.99L232.6,209.11L232.7,265.28L232.8,285.74L232.9,294.09L233,298.92L233.1,302.35L233.2,304.98L233.3,306.97L233.4,308.58L233.5,309.92L233.6,311.08L233.7,312.09L233.8,313L233.9,313.83L234,314.6L234.1,315.31L234.2,315.93L234.3,316.47L234.4,316.96L234.5,317.42L234.6,317.87L234.7,318.3L234.8,318.72L234.9,319.13L235,319.53L235.1,319.94L235.2,320.34L235.3,320.7L235.4,321.04L235.5,321.33L235.6,321.58L235.7,321.79L235.8,321.95L235.9,322.08L236,322.16L236.1,322.2L236.2,322.2L236.3,322.17L236.4,322.09L236.5,321.97L236.6,321.82L236.7,321.61L236.8,321.37L236.9,321.09L237,320.76L237.1,320.4L237.2,320L237.3,319.6L237.4,319.2L237.5,318.79L237.6,318.37L237.7,317.94L237.8,317.5L237.9,317.05L238,316.56L238.1,316.03L238.2,315.43L238.3,314.74L238.4,313.98L238.5,313.17L238.6,312.27L238.7,311.28L238.8,310.16L238.9,308.85L239,307.3L239.1,305.4L239.2,302.89L239.3,299.62L239.4,295.13L239.5,287.69L239.6,269.99L239.7,224.54L239.72,208.67L239.75,164.98L239.77,112.7L239.79,164.98L239.8,187.11L239.82,208.67L239.9,259.64L240,283.37L240.1,293.05L240.2,298.28L240.3,301.86L240.4,304.62L240.5,306.7L240.6,308.35L240.7,309.74L240.8,310.92L240.9,311.95L241,312.87L241.1,313.71L241.2,314.48L241.3,315.21L241.4,315.84L241.5,316.39L241.6,316.89L241.7,317.35L241.8,317.79L241.9,318.23L242,318.65L242.1,319.06L242.2,319.46L242.3,319.87L242.4,320.26L242.5,320.64L242.6,320.98L242.7,321.28L242.8,321.54L242.9,321.75L243,321.92L243.1,322.06L243.2,322.15L243.3,322.2L243.4,322.21L243.5,322.18L243.6,322.11L243.7,322L243.8,321.85L243.9,321.66L244,321.43L244.1,321.15L244.2,320.83L244.3,320.48L244.4,320.09L244.5,319.69L244.6,319.29L244.7,318.89L244.8,318.47L244.9,318.05L245,317.62L245.1,317.17L245.2,316.69L245.3,316.18L245.4,315.6L245.5,314.92L245.6,314.18L245.7,313.39L245.8,312.52L245.9,311.56L246,310.47L246.1,309.22L246.2,307.74L246.3,305.94L246.4,303.61L246.5,300.54L246.6,296.44L246.7,289.95L246.8,275.59L246.9,240.47L246.94,212.14L246.97,171.33L246.99,123.6L247,157.15L247.01,171.33L247.04,212.14L247.1,253.26L247.2,280.66L247.3,291.99L247.4,297.66L247.5,301.4L247.6,304.28L247.7,306.44L247.8,308.15L247.9,309.56L248,310.77L248.1,311.82L248.2,312.75L248.3,313.6L248.4,314.38L248.5,315.11L248.6,315.75L248.7,316.31L248.8,316.82L248.9,317.28L249,317.73L249.1,318.16L249.2,318.58L249.3,318.99L249.4,319.39L249.5,319.8L249.6,320.2L249.7,320.57L249.8,320.92L249.9,321.23L250,321.49L250.1,321.71L250.2,321.89L250.3,322.03L250.4,322.13L250.5,322.19L250.6,322.21L250.7,322.19L250.8,322.13L250.9,322.03L251,321.89L251.1,321.7L251.2,321.48L251.3,321.21L251.4,320.91L251.5,320.56L251.6,320.18L251.7,319.78L251.8,319.38L251.9,318.98L252,318.57L252.1,318.16L252.2,317.73L252.3,317.28L252.4,316.82L252.5,316.32L252.6,315.76L252.7,315.11L252.8,314.38L252.9,313.61L253,312.76L253.1,311.83L253.2,310.79L253.3,309.59L253.4,308.17L253.5,306.47L253.6,304.3L253.7,301.42L253.8,297.67L253.9,291.94L254,280.28L254.1,252.38L254.16,215.8L254.19,177.91L254.2,152.51L254.21,134.6L254.23,177.91L254.26,215.8L254.3,245.69L254.4,277.58L254.5,290.85L254.6,297.01L254.7,300.95L254.8,303.94L254.9,306.2L255,307.95L255.1,309.4L255.2,310.63L255.3,311.69L255.4,312.64L255.5,313.49L255.6,314.28L255.7,315.01L255.8,315.67L255.9,316.24L256,316.75L256.1,317.22L256.2,317.67L256.3,318.1L256.4,318.52L256.5,318.93L256.6,319.33L256.7,319.73L256.8,320.13L256.9,320.51L257,320.86L257.1,321.17L257.2,321.44L257.3,321.68L257.4,321.86L257.5,322.01L257.6,322.12L257.7,322.18L257.8,322.21L257.9,322.19L258,322.14L258.1,322.05L258.2,321.92L258.3,321.75L258.4,321.53L258.5,321.27L258.6,320.98L258.7,320.64L258.8,320.27L258.9,319.88L259,319.48L259.1,319.08L259.2,318.68L259.3,318.27L259.4,317.84L259.5,317.41L259.6,316.95L259.7,316.46L259.8,315.92L259.9,315.3L260,314.59L260.1,313.83L260.2,313.01L260.3,312.11L260.4,311.11L260.5,309.95L260.6,308.61L260.7,306.99L260.8,304.97L260.9,302.28L261,298.83L261.1,293.75L261.2,284.26L261.3,261.68L261.38,219.92L261.4,195.2L261.41,185.15L261.43,146.4L261.45,185.15L261.48,219.92L261.5,236.91L261.6,274.2L261.7,289.65L261.8,296.37L261.9,300.54L262,303.61L262.1,305.96L262.2,307.77L262.3,309.25L262.4,310.5L262.5,311.58L262.6,312.54L262.7,313.4L262.8,314.19L262.9,314.92L263,315.6L263.1,316.18L263.2,316.69L263.3,317.16L263.4,317.61L263.5,318.04L263.6,318.46L263.7,318.87L263.8,319.27L263.9,319.66L264,320.06L264.1,320.44L264.2,320.8L264.3,321.12L264.4,321.4L264.5,321.64L264.6,321.83L264.7,321.99L264.8,322.1L264.9,322.17L265,322.21L265.1,322.2L265.2,322.16L265.3,322.07L265.4,321.95L265.5,321.79L265.6,321.58L265.7,321.33L265.8,321.05L265.9,320.72L266,320.36L266.1,319.97L266.2,319.58L266.3,319.18L266.4,318.78L266.5,318.38L266.6,317.96L266.7,317.53L266.8,317.08L266.9,316.6L267,316.08L267.1,315.48L267.2,314.8L267.3,314.06L267.4,313.26L267.5,312.39L267.6,311.42L267.7,310.31L267.8,309.03L267.9,307.5L268,305.61L268.1,303.11L268.2,299.9L268.3,295.37L268.4,287.53L268.5,268.97L268.6,223.96L268.6,221.5L268.63,192.07L268.65,157.4L268.67,192.07L268.7,223.96L268.7,226.3L268.8,270.5L268.9,288.2L269,295.7L269.1,300.12L269.2,303.28L269.3,305.73L269.4,307.6L269.5,309.11L269.6,310.38L269.7,311.48L269.8,312.44L269.9,313.31L270,314.1L270.1,314.84L270.2,315.52L270.3,316.11L270.4,316.63L270.5,317.11L270.6,317.55L270.7,317.98L270.8,318.4L270.9,318.81L271,319.21L271.1,319.6L271.2,320L271.3,320.38L271.4,320.74L271.5,321.06L271.6,321.35L271.7,321.59L271.8,321.8L271.9,321.96L272,322.08L272.1,322.16L272.2,322.2L272.3,322.2L272.4,322.17L272.5,322.09L272.6,321.98L272.7,321.83L272.8,321.63L272.9,321.39L273,321.12L273.1,320.8L273.2,320.45L273.3,320.07L273.4,319.68L273.5,319.29L273.6,318.89L273.7,318.49L273.8,318.08L273.9,317.66L274,317.22L274.1,316.76L274.2,316.25L274.3,315.68L274.4,315.01L274.5,314.29L274.6,313.52L274.7,312.68L274.8,311.75L274.9,310.69L275,309.47L275.1,308.02L275.2,306.26L275.3,303.96L275.4,300.98L275.5,296.93L275.6,290.36L275.7,275.3L275.8,240.08L275.82,228.87L275.85,200.29L275.87,170.1L275.89,200.29L275.9,214.41L275.92,228.87L276,266.9L276.1,286.62L276.2,295.09L276.3,299.77L276.4,303.01L276.5,305.55L276.6,307.46L276.7,309L276.8,310.29L276.9,311.4L277,312.37L277.1,313.24L277.2,314.04L277.3,314.77L277.4,315.46L277.5,316.06L277.6,316.59L277.7,317.07L277.8,317.51L277.9,317.94L278,318.35L278.1,318.76L278.2,319.15L278.3,319.54L278.4,319.94L278.5,320.32L278.6,320.68L278.7,321.01L278.8,321.3L278.9,321.55L279,321.76L279.1,321.93L279.2,322.06L279.3,322.15L279.4,322.2L279.5,322.21L279.6,322.18L279.7,322.11L279.8,322.01L279.9,321.86L280,321.68L280.1,321.45L280.2,321.18L280.3,320.88L280.4,320.53L280.5,320.16L280.6,319.77L280.7,319.39L280.8,319L280.9,318.6L281,318.2L281.1,317.78L281.2,317.35L281.3,316.9L281.4,316.41L281.5,315.86L281.6,315.23L281.7,314.53L281.8,313.78L281.9,312.96L282,312.06L282.1,311.05L282.2,309.89L282.3,308.52L282.4,306.87L282.5,304.74L282.6,301.97L282.7,298.32L282.8,292.63L282.9,280.51L283,253.21L283.04,233.37L283.07,207.62L283.09,181.1L283.1,199.44L283.11,207.62L283.14,233.37L283.2,262.83L283.3,284.74L283.4,294.41L283.5,299.4L283.6,302.75L283.7,305.35L283.8,307.33L283.9,308.9L284,310.21L284.1,311.33L284.2,312.31L284.3,313.18L284.4,313.98L284.5,314.71L284.6,315.4L284.7,316.01L284.8,316.54L284.9,317.02L285,317.47L285.1,317.89L285.2,318.3L285.3,318.71L285.4,319.1L285.5,319.49L285.6,319.88L285.7,320.26L285.8,320.62L285.9,320.96L286,321.26L286.1,321.51L286.2,321.73L286.3,321.9L286.4,322.04L286.5,322.13L286.6,322.19L286.7,322.21L286.8,322.19L286.9,322.13L287,322.03L287.1,321.9L287.2,321.72L287.3,321.51L287.4,321.25L287.5,320.95L287.6,320.62L287.7,320.26L287.8,319.88L287.9,319.49L288,319.11L288.1,318.72L288.2,318.32L288.3,317.92L288.4,317.5L288.5,317.06L288.6,316.58L288.7,316.06L288.8,315.45L288.9,314.77L289,314.04L289.1,313.26L289.2,312.4L289.3,311.43L289.4,310.32L289.5,309.03L289.6,307.49L289.7,305.53L289.8,302.96L289.9,299.66L290,294.72L290.1,285L290.2,263.46L290.26,238.42L290.29,215.62L290.3,201.79L290.31,192.8L290.33,215.62L290.36,238.42L290.4,258.67L290.5,282.83L290.6,293.8L290.7,299.1L290.8,302.56L290.9,305.21L291,307.24L291.1,308.83L291.2,310.16L291.3,311.28L291.4,312.27L291.5,313.14L291.6,313.94L291.7,314.67L291.8,315.35L291.9,315.98L292,316.51L292.1,316.99L292.2,317.44L292.3,317.86L292.4,318.27L292.5,318.67L292.6,319.06L292.7,319.44L292.8,319.82L292.9,320.2L293,320.57L293.1,320.91L293.2,321.21L293.3,321.47L293.4,321.69L293.5,321.88L293.6,322.02L293.7,322.12L293.8,322.18L293.9,322.21L294,322.2L294.1,322.14L294.2,322.06L294.3,321.93L294.4,321.76L294.5,321.56L294.6,321.31L294.7,321.02L294.8,320.7L294.9,320.34L295,319.97L295.1,319.59L295.2,319.21L295.3,318.83L295.4,318.43L295.5,318.03L295.6,317.62L295.7,317.19L295.8,316.73L295.9,316.22L296,315.63L296.1,314.97L296.2,314.26L296.3,313.5L296.4,312.67L296.5,311.74L296.6,310.68L296.7,309.45L296.8,307.99L296.9,306.17L297,303.77L297.1,300.73L297.2,296.34L297.3,288.37L297.4,270.61L297.48,241.58L297.5,226.3L297.51,220.52L297.53,199.8L297.55,220.69L297.58,241.84L297.6,253.18L297.7,280.6L297.8,293.15L297.9,298.86L298,302.47L298.1,305.18L298.2,307.28L298.3,308.91L298.4,310.25L298.5,311.38L298.6,312.37L298.7,313.25L298.8,314.04L298.9,314.77L299,315.45L299.1,316.08L299.2,316.62L299.3,317.11L299.4,317.55L299.5,317.97L299.6,318.37L299.7,318.77L299.8,319.15L299.9,319.53L300,319.91L300.1,320.28L300.2,320.65L300.3,320.99L300.4,321.29L300.5,321.56L300.6,321.79L300.7,321.97L300.8,322.12L300.9,322.23L301,322.3L301.1,322.33L301.2,322.33L301.3,322.29L301.4,322.21L301.5,322.09L301.6,321.94L301.7,321.75L301.8,321.52L301.9,321.25L302,320.95L302.1,320.61L302.2,320.25L302.3,319.89L302.4,319.53L302.5,319.16L302.6,318.79L302.7,318.41L302.8,318.02L302.9,317.61L303,317.18L303.1,316.71L303.2,316.18L303.3,315.56L303.4,314.9L303.5,314.2L303.6,313.43L303.7,312.59L303.8,311.63L303.9,310.52L304,309.22L304.1,307.63L304.2,305.55L304.3,302.94L304.4,299.34L304.5,293.36L304.6,280.3L304.7,253.91L304.7,252.62L304.73,238.69L304.75,224.6L304.77,249.27L304.8,270.54L304.8,272.08L304.9,299.49L305,309.45L305.1,313.57L305.2,316.09L305.3,317.95L305.4,319.32L305.5,320.38L305.6,321.25L305.7,321.99L305.8,322.63L305.9,323.2L306,323.72L306.1,324.2L306.2,324.62L306.3,324.98L306.4,325.3L306.5,325.61L306.6,325.89L306.7,326.18L306.8,326.45L306.9,326.72L307,326.98L307.1,327.25L307.2,327.49L307.3,327.71L307.4,327.9L307.5,328.06L307.6,328.19L307.7,328.28L307.8,328.35L307.9,328.39L308,328.39L308.1,328.37L308.2,328.32L308.3,328.25L308.4,328.15L308.5,328.01L308.6,327.85L308.7,327.67L308.8,327.45L308.9,327.22L309,326.98L309.1,326.75L309.2,326.5L309.3,326.26L309.4,326.01L309.5,325.75L309.6,325.48L309.7,325.18L309.8,324.84L309.9,324.45L310,324.02L310.1,323.56L310.2,323.06L310.3,322.49L310.4,321.83L310.5,321.06L310.6,320.11L310.7,318.86L310.8,317.23L310.9,314.93L311,310.71L311.1,301.27L311.15,292.72L311.18,284.89L311.2,277.7L311.2,277.7L311.22,292.97L311.25,305.03L311.3,314.77L311.4,322.86L311.5,325.73L311.6,327.22L311.7,328.24L311.8,328.98L311.9,329.54L312,329.99L312.1,330.36L312.2,330.68L312.3,330.97L312.4,331.22L312.5,331.46L312.6,331.66L312.7,331.84L312.8,331.99L312.9,332.14L313,332.28L313.1,332.42L313.2,332.55L313.3,332.69L313.4,332.82L313.5,332.94L313.6,333.05L313.7,333.15L313.8,333.23L313.9,333.29L314,333.34L314.1,333.37L314.2,333.39L314.3,333.39L314.4,333.38L314.5,333.35L314.6,333.32L314.7,333.28L314.8,333.22L314.9,333.16L315,333.08L315.1,333L315.2,332.91L315.3,332.83L315.4,332.74L315.5,332.66L315.6,332.57L315.7,332.48L315.8,332.39L315.9,332.29L316,332.17L316.1,332.04L316.2,331.91L316.3,331.76L316.4,331.6L316.5,331.42L316.6,331.21L316.7,330.97L316.8,330.66L316.9,330.28L317,329.78L317.1,328.99L317.2,327.49L317.25,326.42L317.28,325.62L317.3,325L317.3,325L317.32,329.85L317.35,332.64L317.4,334.46L317.5,335.74L317.6,336.16L317.7,336.37L317.8,336.51L317.9,336.61L318,336.68L318.1,336.74L318.2,336.79L318.3,336.83L318.4,336.87L318.5,336.9L318.6,336.93L318.7,336.96L318.8,336.98L318.9,337L319,337.02L319.1,337.04L319.2,337.06L319.3,337.07L319.4,337.09L319.5,337.11L319.6,337.12L319.7,337.14L319.8,337.15L319.9,337.16L320,337.17L320.1,337.17L320.2,337.18L320.3,337.18L320.4,337.18L320.5,337.18L320.6,337.17L320.7,337.17L320.8,337.16L320.9,337.15"/></defs>
<clipPath id="cb0"><rect x="0" y="0" width="685" height="284"/></clipPath>
<use href="#ni" stroke="#0000ff" stroke-width="1.45" clip-path="url(#cb0)"/>
<clipPath id="cb1"><rect x="0" y="284" width="685" height="10"/></clipPath>
<use href="#ni" stroke="#0000ff" stroke-width="1.5" clip-path="url(#cb1)"/>
<clipPath id="cb2"><rect x="0" y="294" width="685" height="9"/></clipPath>
<use href="#ni" stroke="#0000ff" stroke-width="1.56" clip-path="url(#cb2)"/>
<clipPath id="cb3"><rect x="0" y="303" width="685" height="8"/></clipPath>
<use href="#ni" stroke="#0000ff" stroke-width="1.63" clip-path="url(#cb3)"/>
<clipPath id="cb4"><rect x="0" y="311" width="685" height="67"/></clipPath>
<use href="#ni" stroke="#0000ff" stroke-width="1.7" clip-path="url(#cb4)"/>
</g>
<rect x="35.8" y="38.6" width="285.2" height="299.1" fill="none" stroke="#000" stroke-width="2.0"/>
<text x="29.6" y="343.25" text-anchor="end" font-size="14.8" >0</text>
<line x1="35.8" y1="242.07" x2="40.2" y2="242.07" stroke="#000" stroke-width="1.8"/>
<text x="29.6" y="247.62" text-anchor="end" font-size="14.8" >1</text>
<line x1="35.8" y1="146.44" x2="40.2" y2="146.44" stroke="#000" stroke-width="1.8"/>
<text x="29.6" y="151.99" text-anchor="end" font-size="14.8" >2</text>
<line x1="35.8" y1="50.81" x2="40.2" y2="50.81" stroke="#000" stroke-width="1.8"/>
<text x="29.6" y="56.36" text-anchor="end" font-size="14.8" >3</text>
<line x1="67" y1="337.7" x2="67" y2="333.3" stroke="#000" stroke-width="1.8"/>
<text x="67" y="356" text-anchor="middle" font-size="14.8" >190</text>
<line x1="126.38" y1="337.7" x2="126.38" y2="333.3" stroke="#000" stroke-width="1.8"/>
<text x="126.38" y="356" text-anchor="middle" font-size="14.8" >195</text>
<line x1="185.75" y1="337.7" x2="185.75" y2="333.3" stroke="#000" stroke-width="1.8"/>
<text x="185.75" y="356" text-anchor="middle" font-size="14.8" >200</text>
<line x1="245.12" y1="337.7" x2="245.12" y2="333.3" stroke="#000" stroke-width="1.8"/>
<text x="245.12" y="356" text-anchor="middle" font-size="14.8" >205</text>
<line x1="304.5" y1="337.7" x2="304.5" y2="333.3" stroke="#000" stroke-width="1.8"/>
<text x="304.5" y="356" text-anchor="middle" font-size="14.8" >210</text>
<text x="49.7" y="62" text-anchor="start" font-size="11.9" class="b">a</text>
<text x="178.4" y="374.5" text-anchor="middle" font-size="14.8"><tspan class="it">x</tspan>/<tspan class="it">λ</tspan><tspan font-size="10.36" dy="3.1">0</tspan></text>
<text transform="translate(10.8 188.9) rotate(-90)" text-anchor="middle" font-size="14.8"><tspan class="it">n</tspan>/<tspan class="it">n</tspan><tspan class="it" font-size="10.36" dy="2.6">c</tspan></text>
<g clip-path="url(#cb)" fill="none" stroke-linejoin="round">
<path d="M331.8,126.71L331.9,126.72L332,126.73L332.1,126.74L332.2,126.75L332.3,126.76L332.4,126.77L332.5,126.77L332.6,126.78L332.7,126.79L332.8,126.8L332.9,126.81L333,126.82L333.1,126.83L333.2,126.83L333.3,126.84L333.4,126.85L333.5,126.86L333.6,126.87L333.7,126.87L333.8,126.88L333.9,126.89L334,126.89L334.1,126.9L334.2,126.91L334.3,126.91L334.4,126.92L334.5,126.93L334.6,126.93L334.7,126.94L334.8,126.94L334.9,126.95L335,126.95L335.1,126.96L335.2,126.96L335.3,126.97L335.4,126.97L335.5,126.98L335.6,126.98L335.7,126.98L335.8,126.99L335.9,126.99L336,126.99L336.1,127L336.2,127L336.3,127L336.4,127L336.5,127.01L336.6,127.01L336.7,127.01L336.8,127.01L336.9,127.01L337,127.01L337.1,127.01L337.2,127.01L337.3,127.01L337.4,127.01L337.5,127L337.6,127L337.7,127L337.8,127L337.9,127L338,126.99L338.1,126.99L338.2,126.99L338.3,126.98L338.4,126.98L338.5,126.98L338.6,126.97L338.7,126.97L338.8,126.96L338.9,126.96L339,126.95L339.1,126.95L339.2,126.94L339.3,126.94L339.4,126.93L339.5,126.92L339.6,126.92L339.7,126.91L339.8,126.9L339.9,126.9L340,126.89L340.1,126.88L340.2,126.88L340.3,126.87L340.4,126.86L340.5,126.85L340.6,126.85L340.7,126.84L340.8,126.83L340.9,126.82L341,126.81L341.1,126.81L341.2,126.8L341.3,126.79L341.4,126.78L341.5,126.77L341.6,126.76L341.7,126.75L341.8,126.74L341.9,126.73L342,126.72L342.1,126.72L342.2,126.71L342.3,126.7L342.4,126.69L342.5,126.68L342.6,126.67L342.7,126.66L342.8,126.65L342.9,126.64L343,126.63L343.1,126.62L343.2,126.61L343.3,126.6L343.4,126.59L343.5,126.58L343.6,126.57L343.7,126.56L343.8,126.54L343.9,126.53L344,126.52L344.1,126.51L344.2,126.49L344.3,126.48L344.4,126.47L344.5,126.45L344.6,126.44L344.7,126.42L344.8,126.4L344.9,126.39L345,126.37L345.1,126.35L345.2,126.34L345.3,126.32L345.4,126.3L345.5,126.28L345.6,126.26L345.7,126.24L345.8,126.22L345.9,126.2L346,126.18L346.1,126.16L346.2,126.13L346.3,126.11L346.4,126.09L346.5,126.07L346.6,126.04L346.7,126.02L346.8,126L346.9,125.97L347,125.95L347.1,125.92L347.2,125.9L347.3,125.87L347.4,125.85L347.5,125.82L347.6,125.79L347.7,125.76L347.8,125.74L347.9,125.71L348,125.68L348.1,125.64L348.2,125.61L348.3,125.58L348.4,125.55L348.5,125.51L348.6,125.48L348.7,125.44L348.8,125.4L348.9,125.37L349,125.33L349.1,125.29L349.2,125.25L349.3,125.21L349.4,125.16L349.5,125.12L349.6,125.08L349.7,125.03L349.8,124.99L349.9,124.94L350,124.89L350.1,124.84L350.2,124.79L350.3,124.74L350.4,124.69L350.5,124.64L350.6,124.59L350.7,124.53L350.8,124.48L350.9,124.42L351,124.36L351.1,124.3L351.2,124.23L351.3,124.16L351.4,124.09L351.5,124.02L351.6,123.94L351.7,123.86L351.8,123.77L351.9,123.68L352,123.59L352.1,123.5L352.2,123.4L352.3,123.31L352.4,123.2L352.5,123.1L352.6,122.99L352.7,122.88L352.8,122.77L352.9,122.65L353,122.53L353.1,122.41L353.2,122.29L353.3,122.15L353.4,122.01L353.5,121.87L353.6,121.71L353.7,121.55L353.8,121.38L353.9,121.21L354,121.03L354.1,120.84L354.2,120.64L354.3,120.44L354.4,120.23L354.5,120.01L354.6,119.79L354.7,119.56L354.8,119.31L354.9,119.05L355,118.78L355.1,118.49L355.2,118.18L355.3,117.86L355.4,117.52L355.5,117.17L355.6,116.79L355.7,116.4L355.8,115.99L355.9,115.55L356,115.07L356.1,114.55L356.2,113.98L356.3,113.34L356.4,112.62L356.5,111.78L356.6,110.73L356.7,109.49L356.8,108.08L356.9,106.53L357,104.63L357.1,102.38L357.2,100.05L357.3,97.73L357.4,95.33L357.5,92.9L357.6,90.49L357.7,88.09L357.8,85.69L357.9,83.3L358,80.92L358.1,78.56L358.2,76.2L358.3,73.86L358.38,71.99L358.4,71.52L358.45,70.36L358.48,69.66L358.5,69.2L358.5,69.2L358.52,69.66L358.55,70.36L358.6,71.52L358.62,71.99L358.7,73.86L358.8,76.2L358.9,78.56L359,80.92L359.1,83.3L359.2,85.69L359.3,88.09L359.4,90.49L359.5,92.9L359.6,95.33L359.7,97.73L359.8,100.05L359.9,102.38L360,104.63L360.1,106.53L360.2,108.08L360.3,109.49L360.4,110.73L360.5,111.78L360.6,112.62L360.7,113.34L360.8,113.98L360.9,114.55L361,115.07L361.1,115.55L361.2,115.99L361.3,116.4L361.4,116.79L361.5,117.17L361.6,117.52L361.7,117.86L361.8,118.18L361.9,118.49L362,118.78L362.1,119.05L362.2,119.31L362.3,119.56L362.4,119.79L362.5,120.01L362.6,120.23L362.7,120.44L362.8,120.64L362.9,120.84L363,121.03L363.1,121.21L363.2,121.38L363.3,121.55L363.4,121.71L363.5,121.87L363.6,122.01L363.7,122.15L363.8,122.29L363.9,122.41L364,122.53L364.1,122.65L364.2,122.77L364.3,122.88L364.4,122.99L364.5,123.1L364.6,123.2L364.7,123.31L364.8,123.4L364.9,123.5L365,123.59L365.1,123.68L365.2,123.77L365.3,123.86L365.4,123.94L365.5,124.02L365.6,124.09L365.7,124.16L365.8,124.23L365.9,124.3L366,124.36L366.1,124.42L366.2,124.48L366.3,124.53L366.4,124.59L366.5,124.64L366.6,124.69L366.7,124.74L366.8,124.79L366.9,124.84L367,124.89L367.1,124.94L367.2,124.99L367.3,125.03L367.4,125.08L367.5,125.12L367.6,125.16L367.7,125.21L367.8,125.25L367.9,125.29L368,125.33L368.1,125.37L368.2,125.4L368.3,125.44L368.4,125.48L368.5,125.51L368.6,125.55L368.7,125.58L368.8,125.61L368.9,125.64L369,125.68L369.1,125.71L369.2,125.74L369.3,125.76L369.4,125.79L369.5,125.82L369.6,125.85L369.7,125.87L369.8,125.9L369.9,125.92L370,125.95L370.1,125.97L370.2,126L370.3,126.02L370.4,126.04L370.5,126.07L370.6,126.09L370.7,126.11L370.8,126.13L370.9,126.16L371,126.18L371.1,126.2L371.2,126.22L371.3,126.24L371.4,126.26L371.5,126.28L371.6,126.3L371.7,126.32L371.8,126.34L371.9,126.35L372,126.37L372.1,126.39L372.2,126.4L372.3,126.42L372.4,126.44L372.5,126.45L372.6,126.47L372.7,126.48L372.8,126.49L372.9,126.51L373,126.52L373.1,126.53L373.2,126.54L373.3,126.56L373.4,126.57L373.5,126.58L373.6,126.59L373.7,126.6L373.8,126.61L373.9,126.62L374,126.63L374.1,126.64L374.2,126.65L374.3,126.66L374.4,126.67L374.5,126.68L374.6,126.69L374.7,126.7L374.8,126.71L374.9,126.72L375,126.72L375.1,126.73L375.2,126.74L375.3,126.75L375.4,126.76L375.5,126.77L375.6,126.78L375.7,126.79L375.8,126.8L375.9,126.81L376,126.81L376.1,126.82L376.2,126.83L376.3,126.84L376.4,126.85L376.5,126.85L376.6,126.86L376.7,126.87L376.8,126.88L376.9,126.88L377,126.89L377.1,126.9L377.2,126.9L377.3,126.91L377.4,126.92L377.5,126.92L377.6,126.93L377.7,126.94L377.8,126.94L377.9,126.95L378,126.95L378.1,126.96L378.2,126.96L378.3,126.97L378.4,126.97L378.5,126.98L378.6,126.98L378.7,126.98L378.8,126.99L378.9,126.99L379,126.99L379.1,127L379.2,127L379.3,127L379.4,127L379.5,127L379.6,127.01L379.7,127.01L379.8,127.01L379.9,127.01L380,127.01L380.1,127.01L380.2,127.01L380.3,127.01L380.4,127.01L380.5,127.01L380.6,127L380.7,127L380.8,127L380.9,127L381,126.99L381.1,126.99L381.2,126.99L381.3,126.99L381.4,126.98L381.5,126.98L381.6,126.97L381.7,126.97L381.8,126.96L381.9,126.96L382,126.95L382.1,126.95L382.2,126.94L382.3,126.94L382.4,126.93L382.5,126.92L382.6,126.92L382.7,126.91L382.8,126.9L382.9,126.9L383,126.89L383.1,126.88L383.2,126.88L383.3,126.87L383.4,126.86L383.5,126.85L383.6,126.84L383.7,126.84L383.8,126.83L383.9,126.82L384,126.81L384.1,126.8L384.2,126.79L384.3,126.78L384.4,126.77L384.5,126.76L384.6,126.75L384.7,126.75L384.8,126.74L384.9,126.73L385,126.72L385.1,126.71L385.2,126.7L385.3,126.69L385.4,126.68L385.5,126.67L385.6,126.66L385.7,126.64L385.8,126.63L385.9,126.62L386,126.61L386.1,126.6L386.2,126.59L386.3,126.58L386.4,126.57L386.5,126.56L386.6,126.55L386.7,126.54L386.8,126.53L386.9,126.51L387,126.5L387.1,126.49L387.2,126.48L387.3,126.46L387.4,126.45L387.5,126.43L387.6,126.42L387.7,126.4L387.8,126.38L387.9,126.36L388,126.35L388.1,126.33L388.2,126.31L388.3,126.29L388.4,126.27L388.5,126.25L388.6,126.23L388.7,126.21L388.8,126.19L388.9,126.17L389,126.15L389.1,126.12L389.2,126.1L389.3,126.08L389.4,126.05L389.5,126.03L389.6,126.01L389.7,125.98L389.8,125.96L389.9,125.93L390,125.91L390.1,125.88L390.2,125.85L390.3,125.83L390.4,125.8L390.5,125.77L390.6,125.74L390.7,125.71L390.8,125.68L390.9,125.65L391,125.62L391.1,125.59L391.2,125.56L391.3,125.52L391.4,125.49L391.5,125.45L391.6,125.41L391.7,125.38L391.8,125.34L391.9,125.3L392,125.26L392.1,125.22L392.2,125.18L392.3,125.13L392.4,125.09L392.5,125.04L392.6,125L392.7,124.95L392.8,124.9L392.9,124.86L393,124.81L393.1,124.76L393.2,124.7L393.3,124.65L393.4,124.6L393.5,124.54L393.6,124.49L393.7,124.43L393.8,124.37L393.9,124.31L394,124.25L394.1,124.19L394.2,124.12L394.3,124.05L394.4,123.98L394.5,123.9L394.6,123.82L394.7,123.74L394.8,123.65L394.9,123.56L395,123.47L395.1,123.37L395.2,123.27L395.3,123.17L395.4,123.06L395.5,122.96L395.6,122.84L395.7,122.73L395.8,122.61L395.9,122.49L396,122.37L396.1,122.24L396.2,122.11L396.3,121.98L396.4,121.84L396.5,121.69L396.6,121.53L396.7,121.37L396.8,121.2L396.9,121.02L397,120.83L397.1,120.64L397.2,120.44L397.3,120.23L397.4,120.01L397.5,119.79L397.6,119.56L397.7,119.32L397.8,119.07L397.9,118.81L398,118.53L398.1,118.24L398.2,117.93L398.3,117.61L398.4,117.26L398.5,116.9L398.6,116.52L398.7,116.13L398.8,115.71L398.9,115.27L399,114.8L399.1,114.3L399.2,113.74L399.3,113.13L399.4,112.45L399.5,111.68L399.6,110.79L399.7,109.67L399.8,108.35L399.9,106.85L400,105.19L400.1,103.18L400.2,100.77L400.3,98.29L400.4,95.82L400.5,93.27L400.6,90.68L400.7,88.11L400.8,85.56L400.9,83L401,80.46L401.1,77.92L401.2,75.41L401.3,72.9L401.4,70.4L401.48,68.41L401.5,67.91L401.55,66.67L401.58,65.93L401.6,65.44L401.6,65.44L401.62,65.93L401.65,66.67L401.7,67.91L401.72,68.41L401.8,70.4L401.9,72.9L402,75.41L402.1,77.92L402.2,80.46L402.3,83L402.4,85.56L402.5,88.11L402.6,90.68L402.7,93.27L402.8,95.82L402.9,98.29L403,100.77L403.1,103.18L403.2,105.19L403.3,106.85L403.4,108.35L403.5,109.67L403.6,110.79L403.7,111.68L403.8,112.45L403.9,113.13L404,113.74L404.1,114.3L404.2,114.8L404.3,115.27L404.4,115.71L404.5,116.13L404.6,116.52L404.7,116.9L404.8,117.26L404.9,117.61L405,117.93L405.1,118.24L405.2,118.53L405.3,118.81L405.4,119.07L405.5,119.32L405.6,119.56L405.7,119.79L405.8,120.01L405.9,120.23L406,120.44L406.1,120.64L406.2,120.83L406.3,121.02L406.4,121.2L406.5,121.37L406.6,121.53L406.7,121.69L406.8,121.84L406.9,121.98L407,122.11L407.1,122.24L407.2,122.37L407.3,122.49L407.4,122.61L407.5,122.73L407.6,122.84L407.7,122.96L407.8,123.06L407.9,123.17L408,123.27L408.1,123.37L408.2,123.47L408.3,123.56L408.4,123.65L408.5,123.74L408.6,123.82L408.7,123.9L408.8,123.98L408.9,124.05L409,124.12L409.1,124.19L409.2,124.25L409.3,124.31L409.4,124.37L409.5,124.43L409.6,124.49L409.7,124.54L409.8,124.6L409.9,124.65L410,124.7L410.1,124.76L410.2,124.81L410.3,124.86L410.4,124.9L410.5,124.95L410.6,125L410.7,125.04L410.8,125.09L410.9,125.13L411,125.18L411.1,125.22L411.2,125.26L411.3,125.3L411.4,125.34L411.5,125.38L411.6,125.41L411.7,125.45L411.8,125.49L411.9,125.52L412,125.56L412.1,125.59L412.2,125.62L412.3,125.65L412.4,125.68L412.5,125.71L412.6,125.74L412.7,125.77L412.8,125.8L412.9,125.83L413,125.85L413.1,125.88L413.2,125.91L413.3,125.93L413.4,125.96L413.5,125.98L413.6,126.01L413.7,126.03L413.8,126.05L413.9,126.08L414,126.1L414.1,126.12L414.2,126.15L414.3,126.17L414.4,126.19L414.5,126.21L414.6,126.23L414.7,126.25L414.8,126.27L414.9,126.29L415,126.31L415.1,126.33L415.2,126.35L415.3,126.36L415.4,126.38L415.5,126.4L415.6,126.42L415.7,126.43L415.8,126.45L415.9,126.46L416,126.48L416.1,126.49L416.2,126.5L416.3,126.51L416.4,126.53L416.5,126.54L416.6,126.55L416.7,126.56L416.8,126.57L416.9,126.58L417,126.59L417.1,126.6L417.2,126.61L417.3,126.62L417.4,126.63L417.5,126.64L417.6,126.66L417.7,126.67L417.8,126.68L417.9,126.69L418,126.7L418.1,126.71L418.2,126.72L418.3,126.73L418.4,126.74L418.5,126.75L418.6,126.75L418.7,126.76L418.8,126.77L418.9,126.78L419,126.79L419.1,126.8L419.2,126.81L419.3,126.82L419.4,126.83L419.5,126.84L419.6,126.84L419.7,126.85L419.8,126.86L419.9,126.87L420,126.88L420.1,126.88L420.2,126.89L420.3,126.9L420.4,126.9L420.5,126.91L420.6,126.92L420.7,126.92L420.8,126.93L420.9,126.94L421,126.94L421.1,126.95L421.2,126.95L421.3,126.96L421.4,126.96L421.5,126.97L421.6,126.97L421.7,126.98L421.8,126.98L421.9,126.99L422,126.99L422.1,126.99L422.2,126.99L422.3,127L422.4,127L422.5,127L422.6,127L422.7,127.01L422.8,127.01L422.9,127.01L423,127.01L423.1,127.01L423.2,127.01L423.3,127.01L423.4,127.01L423.5,127.01L423.6,127L423.7,127L423.8,127L423.9,127L424,126.99L424.1,126.99L424.2,126.99L424.3,126.98L424.4,126.98L424.5,126.98L424.6,126.97L424.7,126.97L424.8,126.96L424.9,126.96L425,126.95L425.1,126.95L425.2,126.94L425.3,126.93L425.4,126.93L425.5,126.92L425.6,126.91L425.7,126.91L425.8,126.9L425.9,126.89L426,126.89L426.1,126.88L426.2,126.87L426.3,126.86L426.4,126.85L426.5,126.85L426.6,126.84L426.7,126.83L426.8,126.82L426.9,126.81L427,126.8L427.1,126.79L427.2,126.78L427.3,126.77L427.4,126.76L427.5,126.75L427.6,126.74L427.7,126.73L427.8,126.72L427.9,126.71L428,126.7L428.1,126.69L428.2,126.68L428.3,126.67L428.4,126.66L428.5,126.65L428.6,126.64L428.7,126.63L428.8,126.62L428.9,126.61L429,126.6L429.1,126.58L429.2,126.57L429.3,126.56L429.4,126.55L429.5,126.54L429.6,126.53L429.7,126.52L429.8,126.5L429.9,126.49L430,126.48L430.1,126.46L430.2,126.45L430.3,126.44L430.4,126.42L430.5,126.4L430.6,126.39L430.7,126.37L430.8,126.35L430.9,126.34L431,126.32L431.1,126.3L431.2,126.28L431.3,126.26L431.4,126.24L431.5,126.22L431.6,126.2L431.7,126.17L431.8,126.15L431.9,126.13L432,126.11L432.1,126.08L432.2,126.06L432.3,126.04L432.4,126.01L432.5,125.99L432.6,125.96L432.7,125.93L432.8,125.91L432.9,125.88L433,125.85L433.1,125.83L433.2,125.8L433.3,125.77L433.4,125.74L433.5,125.71L433.6,125.68L433.7,125.65L433.8,125.62L433.9,125.59L434,125.56L434.1,125.52L434.2,125.49L434.3,125.45L434.4,125.42L434.5,125.38L434.6,125.34L434.7,125.3L434.8,125.26L434.9,125.22L435,125.18L435.1,125.14L435.2,125.09L435.3,125.05L435.4,125L435.5,124.95L435.6,124.91L435.7,124.86L435.8,124.81L435.9,124.76L436,124.71L436.1,124.65L436.2,124.6L436.3,124.54L436.4,124.49L436.5,124.43L436.6,124.37L436.7,124.31L436.8,124.25L436.9,124.19L437,124.12L437.1,124.06L437.2,123.99L437.3,123.91L437.4,123.84L437.5,123.76L437.6,123.67L437.7,123.59L437.8,123.5L437.9,123.4L438,123.31L438.1,123.2L438.2,123.1L438.3,122.99L438.4,122.88L438.5,122.77L438.6,122.65L438.7,122.53L438.8,122.41L438.9,122.28L439,122.16L439.1,122.02L439.2,121.89L439.3,121.75L439.4,121.6L439.5,121.45L439.6,121.28L439.7,121.11L439.8,120.93L439.9,120.74L440,120.55L440.1,120.35L440.2,120.14L440.3,119.92L440.4,119.69L440.5,119.46L440.6,119.22L440.7,118.97L440.8,118.71L440.9,118.44L441,118.15L441.1,117.84L441.2,117.52L441.3,117.18L441.4,116.82L441.5,116.44L441.6,116.04L441.7,115.63L441.8,115.19L441.9,114.73L442,114.24L442.1,113.71L442.2,113.13L442.3,112.49L442.4,111.78L442.5,110.98L442.6,110.05L442.7,108.88L442.8,107.49L442.9,105.92L443,104.19L443.1,102.08L443.2,99.57L443.3,96.98L443.4,94.39L443.5,91.72L443.6,89.02L443.7,86.33L443.8,83.66L443.9,80.99L444,78.32L444.1,75.67L444.2,73.04L444.3,70.42L444.4,67.81L444.48,65.72L444.5,65.21L444.55,63.91L444.58,63.13L444.6,62.62L444.6,62.62L444.62,63.13L444.65,63.91L444.7,65.21L444.72,65.72L444.8,67.81L444.9,70.42L445,73.04L445.1,75.67L445.2,78.32L445.3,80.99L445.4,83.66L445.5,86.33L445.6,89.02L445.7,91.72L445.8,94.39L445.9,96.98L446,99.57L446.1,102.08L446.2,104.19L446.3,105.92L446.4,107.49L446.5,108.88L446.6,110.05L446.7,110.98L446.8,111.78L446.9,112.49L447,113.13L447.1,113.71L447.2,114.24L447.3,114.73L447.4,115.19L447.5,115.63L447.6,116.04L447.7,116.44L447.8,116.82L447.9,117.18L448,117.52L448.1,117.84L448.2,118.15L448.3,118.44L448.4,118.71L448.5,118.97L448.6,119.22L448.7,119.46L448.8,119.69L448.9,119.92L449,120.14L449.1,120.35L449.2,120.55L449.3,120.74L449.4,120.93L449.5,121.11L449.6,121.28L449.7,121.45L449.8,121.6L449.9,121.75L450,121.89L450.1,122.02L450.2,122.16L450.3,122.28L450.4,122.41L450.5,122.53L450.6,122.65L450.7,122.77L450.8,122.88L450.9,122.99L451,123.1L451.1,123.2L451.2,123.31L451.3,123.4L451.4,123.5L451.5,123.59L451.6,123.67L451.7,123.76L451.8,123.84L451.9,123.91L452,123.99L452.1,124.06L452.2,124.12L452.3,124.19L452.4,124.25L452.5,124.31L452.6,124.37L452.7,124.43L452.8,124.49L452.9,124.54L453,124.6L453.1,124.65L453.2,124.71L453.3,124.76L453.4,124.81L453.5,124.86L453.6,124.91L453.7,124.95L453.8,125L453.9,125.05L454,125.09L454.1,125.14L454.2,125.18L454.3,125.22L454.4,125.26L454.5,125.3L454.6,125.34L454.7,125.38L454.8,125.42L454.9,125.45L455,125.49L455.1,125.52L455.2,125.56L455.3,125.59L455.4,125.62L455.5,125.65L455.6,125.68L455.7,125.71L455.8,125.74L455.9,125.77L456,125.8L456.1,125.83L456.2,125.85L456.3,125.88L456.4,125.91L456.5,125.93L456.6,125.96L456.7,125.99L456.8,126.01L456.9,126.04L457,126.06L457.1,126.08L457.2,126.11L457.3,126.13L457.4,126.15L457.5,126.17L457.6,126.2L457.7,126.22L457.8,126.24L457.9,126.26L458,126.28L458.1,126.3L458.2,126.32L458.3,126.34L458.4,126.35L458.5,126.37L458.6,126.39L458.7,126.4L458.8,126.42L458.9,126.44L459,126.45L459.1,126.46L459.2,126.48L459.3,126.49L459.4,126.5L459.5,126.52L459.6,126.53L459.7,126.54L459.8,126.55L459.9,126.56L460,126.57L460.1,126.58L460.2,126.6L460.3,126.61L460.4,126.62L460.5,126.63L460.6,126.64L460.7,126.65L460.8,126.66L460.9,126.67L461,126.68L461.1,126.69L461.2,126.7L461.3,126.71L461.4,126.72L461.5,126.73L461.6,126.74L461.7,126.75L461.8,126.76L461.9,126.77L462,126.78L462.1,126.79L462.2,126.8L462.3,126.81L462.4,126.82L462.5,126.83L462.6,126.84L462.7,126.85L462.8,126.85L462.9,126.86L463,126.87L463.1,126.88L463.2,126.89L463.3,126.89L463.4,126.9L463.5,126.91L463.6,126.91L463.7,126.92L463.8,126.93L463.9,126.93L464,126.94L464.1,126.95L464.2,126.95L464.3,126.96L464.4,126.96L464.5,126.97L464.6,126.97L464.7,126.98L464.8,126.98L464.9,126.98L465,126.99L465.1,126.99L465.2,126.99L465.3,127L465.4,127L465.5,127L465.6,127L465.7,127.01L465.8,127.01L465.9,127.01L466,127.01L466.1,127.01L466.2,127.01L466.3,127.01L466.4,127.01L466.5,127.01L466.6,127L466.7,127L466.8,127L466.9,127L467,127L467.1,126.99L467.2,126.99L467.3,126.99L467.4,126.98L467.5,126.98L467.6,126.97L467.7,126.97L467.8,126.96L467.9,126.96L468,126.95L468.1,126.95L468.2,126.94L468.3,126.94L468.4,126.93L468.5,126.92L468.6,126.92L468.7,126.91L468.8,126.9L468.9,126.9L469,126.89L469.1,126.88L469.2,126.87L469.3,126.87L469.4,126.86L469.5,126.85L469.6,126.84L469.7,126.83L469.8,126.82L469.9,126.81L470,126.81L470.1,126.8L470.2,126.79L470.3,126.78L470.4,126.77L470.5,126.76L470.6,126.75L470.7,126.74L470.8,126.73L470.9,126.72L471,126.71L471.1,126.7L471.2,126.69L471.3,126.68L471.4,126.67L471.5,126.66L471.6,126.64L471.7,126.63L471.8,126.62L471.9,126.61L472,126.6L472.1,126.59L472.2,126.58L472.3,126.57L472.4,126.56L472.5,126.55L472.6,126.53L472.7,126.52L472.8,126.51L472.9,126.5L473,126.49L473.1,126.47L473.2,126.46L473.3,126.44L473.4,126.43L473.5,126.41L473.6,126.4L473.7,126.38L473.8,126.36L473.9,126.34L474,126.33" stroke="#0000ff" stroke-width="2.35"/>
</g>
<rect x="331.8" y="38.6" width="142.2" height="93.3" fill="none" stroke="#000" stroke-width="2.0"/>
<text x="481.6" y="137.45" text-anchor="start" font-size="14.8" >0</text>
<line x1="474" y1="100.55" x2="470.3" y2="100.55" stroke="#000" stroke-width="1.8"/>
<text x="481.6" y="106.1" text-anchor="start" font-size="14.8" >1</text>
<line x1="474" y1="69.2" x2="470.3" y2="69.2" stroke="#000" stroke-width="1.8"/>
<text x="481.6" y="74.75" text-anchor="start" font-size="14.8" >2</text>
<line x1="402.8" y1="38.6" x2="402.8" y2="42.3" stroke="#000" stroke-width="1.8"/>
<text x="339.1" y="51.7" text-anchor="start" font-size="11.9" class="b">b</text>
<text transform="translate(506.2 85.85) rotate(-90)" text-anchor="middle" font-size="14.8"><tspan class="it">n</tspan>/<tspan class="it">n</tspan><tspan class="it" font-size="10.36" dy="2.6">c</tspan></text>
<g clip-path="url(#cc)" fill="none" stroke-linejoin="round">
<path d="M331.8,229.7L331.9,229.71L332,229.72L332.1,229.73L332.2,229.74L332.3,229.75L332.4,229.76L332.5,229.77L332.6,229.78L332.7,229.79L332.8,229.8L332.9,229.81L333,229.82L333.1,229.83L333.2,229.84L333.3,229.85L333.4,229.86L333.5,229.87L333.6,229.88L333.7,229.89L333.8,229.9L333.9,229.91L334,229.92L334.1,229.93L334.2,229.94L334.3,229.94L334.4,229.95L334.5,229.96L334.6,229.97L334.7,229.97L334.8,229.98L334.9,229.99L335,230L335.1,230L335.2,230.01L335.3,230.01L335.4,230.02L335.5,230.03L335.6,230.03L335.7,230.04L335.8,230.04L335.9,230.04L336,230.05L336.1,230.05L336.2,230.06L336.3,230.06L336.4,230.06L336.5,230.06L336.6,230.07L336.7,230.07L336.8,230.07L336.9,230.07L337,230.07L337.1,230.07L337.2,230.07L337.3,230.07L337.4,230.07L337.5,230.06L337.6,230.06L337.7,230.06L337.8,230.05L337.9,230.05L338,230.05L338.1,230.04L338.2,230.04L338.3,230.03L338.4,230.03L338.5,230.02L338.6,230.02L338.7,230.01L338.8,230L338.9,230L339,229.99L339.1,229.99L339.2,229.98L339.3,229.97L339.4,229.96L339.5,229.96L339.6,229.95L339.7,229.94L339.8,229.93L339.9,229.92L340,229.91L340.1,229.9L340.2,229.9L340.3,229.89L340.4,229.88L340.5,229.87L340.6,229.86L340.7,229.85L340.8,229.84L340.9,229.83L341,229.82L341.1,229.81L341.2,229.8L341.3,229.79L341.4,229.78L341.5,229.77L341.6,229.76L341.7,229.74L341.8,229.73L341.9,229.72L342,229.71L342.1,229.7L342.2,229.69L342.3,229.68L342.4,229.67L342.5,229.66L342.6,229.65L342.7,229.63L342.8,229.62L342.9,229.61L343,229.6L343.1,229.59L343.2,229.57L343.3,229.56L343.4,229.54L343.5,229.53L343.6,229.51L343.7,229.5L343.8,229.48L343.9,229.47L344,229.45L344.1,229.43L344.2,229.41L344.3,229.4L344.4,229.38L344.5,229.36L344.6,229.34L344.7,229.32L344.8,229.3L344.9,229.28L345,229.26L345.1,229.24L345.2,229.22L345.3,229.19L345.4,229.17L345.5,229.15L345.6,229.13L345.7,229.1L345.8,229.08L345.9,229.06L346,229.03L346.1,229.01L346.2,228.99L346.3,228.96L346.4,228.94L346.5,228.91L346.6,228.88L346.7,228.86L346.8,228.83L346.9,228.81L347,228.78L347.1,228.75L347.2,228.73L347.3,228.7L347.4,228.67L347.5,228.64L347.6,228.61L347.7,228.58L347.8,228.55L347.9,228.52L348,228.49L348.1,228.46L348.2,228.43L348.3,228.39L348.4,228.36L348.5,228.33L348.6,228.29L348.7,228.25L348.8,228.22L348.9,228.18L349,228.14L349.1,228.1L349.2,228.06L349.3,228.02L349.4,227.98L349.5,227.94L349.6,227.9L349.7,227.85L349.8,227.81L349.9,227.76L350,227.72L350.1,227.67L350.2,227.62L350.3,227.57L350.4,227.52L350.5,227.47L350.6,227.42L350.7,227.36L350.8,227.31L350.9,227.26L351,227.2L351.1,227.14L351.2,227.08L351.3,227.01L351.4,226.95L351.5,226.88L351.6,226.81L351.7,226.73L351.8,226.66L351.9,226.58L352,226.5L352.1,226.42L352.2,226.33L352.3,226.24L352.4,226.15L352.5,226.06L352.6,225.97L352.7,225.87L352.8,225.78L352.9,225.68L353,225.57L353.1,225.47L353.2,225.36L353.3,225.26L353.4,225.15L353.5,225.03L353.6,224.92L353.7,224.8L353.8,224.68L353.9,224.55L354,224.41L354.1,224.27L354.2,224.13L354.3,223.97L354.4,223.81L354.5,223.65L354.6,223.48L354.7,223.3L354.8,223.11L354.9,222.91L355,222.71L355.1,222.5L355.2,222.27L355.3,222.03L355.4,221.78L355.5,221.51L355.6,221.23L355.7,220.93L355.8,220.61L355.9,220.27L356,219.91L356.1,219.52L356.2,219.12L356.3,218.67L356.4,218.14L356.5,217.54L356.6,216.89L356.7,216.18L356.8,215.43L356.9,214.56L357,213.55L357.1,212.48L357.2,211.42L357.3,210.34L357.4,209.23L357.5,208.19L357.6,207.12L357.7,205.79L357.8,204.05L357.9,201.75L358,198.59L358.1,193.12L358.2,184.88L358.3,174.19L358.38,162.92L358.4,160.24L358.45,153.48L358.48,149.39L358.5,146.65L358.5,146.65L358.52,149.39L358.55,153.48L358.6,160.24L358.62,162.92L358.7,174.19L358.8,184.88L358.9,193.12L359,198.59L359.1,201.75L359.2,204.05L359.3,205.79L359.4,207.12L359.5,208.19L359.6,209.23L359.7,210.34L359.8,211.42L359.9,212.48L360,213.55L360.1,214.56L360.2,215.43L360.3,216.18L360.4,216.89L360.5,217.54L360.6,218.14L360.7,218.67L360.8,219.12L360.9,219.52L361,219.91L361.1,220.27L361.2,220.61L361.3,220.93L361.4,221.23L361.5,221.51L361.6,221.78L361.7,222.03L361.8,222.27L361.9,222.5L362,222.71L362.1,222.91L362.2,223.11L362.3,223.3L362.4,223.48L362.5,223.65L362.6,223.81L362.7,223.97L362.8,224.13L362.9,224.27L363,224.41L363.1,224.55L363.2,224.68L363.3,224.8L363.4,224.92L363.5,225.03L363.6,225.15L363.7,225.26L363.8,225.36L363.9,225.47L364,225.57L364.1,225.68L364.2,225.78L364.3,225.87L364.4,225.97L364.5,226.06L364.6,226.15L364.7,226.24L364.8,226.33L364.9,226.42L365,226.5L365.1,226.58L365.2,226.66L365.3,226.73L365.4,226.81L365.5,226.88L365.6,226.95L365.7,227.01L365.8,227.08L365.9,227.14L366,227.2L366.1,227.26L366.2,227.31L366.3,227.36L366.4,227.42L366.5,227.47L366.6,227.52L366.7,227.57L366.8,227.62L366.9,227.67L367,227.72L367.1,227.76L367.2,227.81L367.3,227.85L367.4,227.9L367.5,227.94L367.6,227.98L367.7,228.02L367.8,228.06L367.9,228.1L368,228.14L368.1,228.18L368.2,228.22L368.3,228.25L368.4,228.29L368.5,228.33L368.6,228.36L368.7,228.39L368.8,228.43L368.9,228.46L369,228.49L369.1,228.52L369.2,228.55L369.3,228.58L369.4,228.61L369.5,228.64L369.6,228.67L369.7,228.7L369.8,228.73L369.9,228.75L370,228.78L370.1,228.81L370.2,228.83L370.3,228.86L370.4,228.88L370.5,228.91L370.6,228.94L370.7,228.96L370.8,228.99L370.9,229.01L371,229.03L371.1,229.06L371.2,229.08L371.3,229.1L371.4,229.13L371.5,229.15L371.6,229.17L371.7,229.19L371.8,229.22L371.9,229.24L372,229.26L372.1,229.28L372.2,229.3L372.3,229.32L372.4,229.34L372.5,229.36L372.6,229.38L372.7,229.4L372.8,229.41L372.9,229.43L373,229.45L373.1,229.47L373.2,229.48L373.3,229.5L373.4,229.51L373.5,229.53L373.6,229.54L373.7,229.56L373.8,229.57L373.9,229.59L374,229.6L374.1,229.61L374.2,229.62L374.3,229.63L374.4,229.65L374.5,229.66L374.6,229.67L374.7,229.68L374.8,229.69L374.9,229.7L375,229.71L375.1,229.72L375.2,229.73L375.3,229.74L375.4,229.76L375.5,229.77L375.6,229.78L375.7,229.79L375.8,229.8L375.9,229.81L376,229.82L376.1,229.83L376.2,229.84L376.3,229.85L376.4,229.86L376.5,229.87L376.6,229.88L376.7,229.89L376.8,229.9L376.9,229.9L377,229.91L377.1,229.92L377.2,229.93L377.3,229.94L377.4,229.95L377.5,229.96L377.6,229.96L377.7,229.97L377.8,229.98L377.9,229.99L378,229.99L378.1,230L378.2,230L378.3,230.01L378.4,230.02L378.5,230.02L378.6,230.03L378.7,230.03L378.8,230.04L378.9,230.04L379,230.05L379.1,230.05L379.2,230.05L379.3,230.06L379.4,230.06L379.5,230.06L379.6,230.07L379.7,230.07L379.8,230.07L379.9,230.07L380,230.07L380.1,230.07L380.2,230.07L380.3,230.07L380.4,230.07L380.5,230.07L380.6,230.07L380.7,230.06L380.8,230.06L380.9,230.06L381,230.05L381.1,230.05L381.2,230.05L381.3,230.04L381.4,230.04L381.5,230.03L381.6,230.03L381.7,230.02L381.8,230.02L381.9,230.01L382,230.01L382.1,230L382.2,229.99L382.3,229.99L382.4,229.98L382.5,229.97L382.6,229.96L382.7,229.96L382.8,229.95L382.9,229.94L383,229.93L383.1,229.92L383.2,229.92L383.3,229.91L383.4,229.9L383.5,229.89L383.6,229.88L383.7,229.87L383.8,229.86L383.9,229.85L384,229.84L384.1,229.83L384.2,229.82L384.3,229.81L384.4,229.8L384.5,229.79L384.6,229.78L384.7,229.77L384.8,229.76L384.9,229.75L385,229.74L385.1,229.73L385.2,229.72L385.3,229.71L385.4,229.69L385.5,229.68L385.6,229.67L385.7,229.66L385.8,229.65L385.9,229.64L386,229.63L386.1,229.62L386.2,229.6L386.3,229.59L386.4,229.58L386.5,229.56L386.6,229.55L386.7,229.54L386.8,229.52L386.9,229.5L387,229.49L387.1,229.47L387.2,229.46L387.3,229.44L387.4,229.42L387.5,229.4L387.6,229.39L387.7,229.37L387.8,229.35L387.9,229.33L388,229.31L388.1,229.29L388.2,229.27L388.3,229.25L388.4,229.23L388.5,229.2L388.6,229.18L388.7,229.16L388.8,229.14L388.9,229.12L389,229.09L389.1,229.07L389.2,229.05L389.3,229.02L389.4,229L389.5,228.97L389.6,228.95L389.7,228.92L389.8,228.9L389.9,228.87L390,228.85L390.1,228.82L390.2,228.79L390.3,228.77L390.4,228.74L390.5,228.71L390.6,228.69L390.7,228.66L390.8,228.63L390.9,228.6L391,228.57L391.1,228.54L391.2,228.51L391.3,228.48L391.4,228.45L391.5,228.41L391.6,228.38L391.7,228.35L391.8,228.31L391.9,228.27L392,228.24L392.1,228.2L392.2,228.16L392.3,228.13L392.4,228.09L392.5,228.05L392.6,228L392.7,227.96L392.8,227.92L392.9,227.88L393,227.83L393.1,227.79L393.2,227.74L393.3,227.7L393.4,227.65L393.5,227.6L393.6,227.55L393.7,227.5L393.8,227.45L393.9,227.4L394,227.34L394.1,227.29L394.2,227.23L394.3,227.17L394.4,227.11L394.5,227.05L394.6,226.98L394.7,226.91L394.8,226.84L394.9,226.77L395,226.7L395.1,226.62L395.2,226.54L395.3,226.46L395.4,226.37L395.5,226.29L395.6,226.2L395.7,226.11L395.8,226.02L395.9,225.92L396,225.82L396.1,225.73L396.2,225.62L396.3,225.52L396.4,225.42L396.5,225.31L396.6,225.2L396.7,225.09L396.8,224.98L396.9,224.86L397,224.74L397.1,224.61L397.2,224.48L397.3,224.34L397.4,224.19L397.5,224.04L397.6,223.88L397.7,223.72L397.8,223.55L397.9,223.37L398,223.19L398.1,222.99L398.2,222.79L398.3,222.58L398.4,222.36L398.5,222.12L398.6,221.87L398.7,221.61L398.8,221.33L398.9,221.03L399,220.71L399.1,220.38L399.2,220.02L399.3,219.64L399.4,219.24L399.5,218.79L399.6,218.27L399.7,217.68L399.8,217.04L399.9,216.34L400,215.59L400.1,214.73L400.2,213.74L400.3,212.68L400.4,211.63L400.5,210.56L400.6,209.47L400.7,208.44L400.8,207.38L400.9,206.06L401,204.35L401.1,202.07L401.2,198.95L401.3,193.53L401.4,185.39L401.5,174.82L401.58,163.68L401.6,161.02L401.65,154.34L401.68,150.3L401.7,147.59L401.7,147.59L401.72,150.3L401.75,154.34L401.8,161.02L401.82,163.68L401.9,174.82L402,185.39L402.1,193.53L402.2,198.95L402.3,202.07L402.4,204.35L402.5,206.06L402.6,207.38L402.7,208.44L402.8,209.47L402.9,210.56L403,211.63L403.1,212.68L403.2,213.74L403.3,214.73L403.4,215.59L403.5,216.34L403.6,217.04L403.7,217.68L403.8,218.27L403.9,218.79L404,219.24L404.1,219.64L404.2,220.02L404.3,220.38L404.4,220.71L404.5,221.03L404.6,221.33L404.7,221.61L404.8,221.87L404.9,222.12L405,222.36L405.1,222.58L405.2,222.79L405.3,222.99L405.4,223.19L405.5,223.37L405.6,223.55L405.7,223.72L405.8,223.88L405.9,224.04L406,224.19L406.1,224.34L406.2,224.48L406.3,224.61L406.4,224.74L406.5,224.86L406.6,224.98L406.7,225.09L406.8,225.2L406.9,225.31L407,225.42L407.1,225.52L407.2,225.62L407.3,225.73L407.4,225.82L407.5,225.92L407.6,226.02L407.7,226.11L407.8,226.2L407.9,226.29L408,226.37L408.1,226.46L408.2,226.54L408.3,226.62L408.4,226.7L408.5,226.77L408.6,226.84L408.7,226.91L408.8,226.98L408.9,227.05L409,227.11L409.1,227.17L409.2,227.23L409.3,227.29L409.4,227.34L409.5,227.4L409.6,227.45L409.7,227.5L409.8,227.55L409.9,227.6L410,227.65L410.1,227.7L410.2,227.74L410.3,227.79L410.4,227.83L410.5,227.88L410.6,227.92L410.7,227.96L410.8,228L410.9,228.05L411,228.09L411.1,228.13L411.2,228.16L411.3,228.2L411.4,228.24L411.5,228.27L411.6,228.31L411.7,228.35L411.8,228.38L411.9,228.41L412,228.45L412.1,228.48L412.2,228.51L412.3,228.54L412.4,228.57L412.5,228.6L412.6,228.63L412.7,228.66L412.8,228.69L412.9,228.71L413,228.74L413.1,228.77L413.2,228.79L413.3,228.82L413.4,228.85L413.5,228.87L413.6,228.9L413.7,228.92L413.8,228.95L413.9,228.97L414,229L414.1,229.02L414.2,229.05L414.3,229.07L414.4,229.09L414.5,229.12L414.6,229.14L414.7,229.16L414.8,229.18L414.9,229.2L415,229.23L415.1,229.25L415.2,229.27L415.3,229.29L415.4,229.31L415.5,229.33L415.6,229.35L415.7,229.37L415.8,229.39L415.9,229.4L416,229.42L416.1,229.44L416.2,229.46L416.3,229.47L416.4,229.49L416.5,229.5L416.6,229.52L416.7,229.54L416.8,229.55L416.9,229.56L417,229.58L417.1,229.59L417.2,229.6L417.3,229.62L417.4,229.63L417.5,229.64L417.6,229.65L417.7,229.66L417.8,229.67L417.9,229.68L418,229.69L418.1,229.71L418.2,229.72L418.3,229.73L418.4,229.74L418.5,229.75L418.6,229.76L418.7,229.77L418.8,229.78L418.9,229.79L419,229.8L419.1,229.81L419.2,229.82L419.3,229.83L419.4,229.84L419.5,229.85L419.6,229.86L419.7,229.87L419.8,229.88L419.9,229.89L420,229.9L420.1,229.91L420.2,229.92L420.3,229.92L420.4,229.93L420.5,229.94L420.6,229.95L420.7,229.96L420.8,229.96L420.9,229.97L421,229.98L421.1,229.99L421.2,229.99L421.3,230L421.4,230.01L421.5,230.01L421.6,230.02L421.7,230.02L421.8,230.03L421.9,230.03L422,230.04L422.1,230.04L422.2,230.05L422.3,230.05L422.4,230.05L422.5,230.06L422.6,230.06L422.7,230.06L422.8,230.07L422.9,230.07L423,230.07L423.1,230.07L423.2,230.07L423.3,230.07L423.4,230.07L423.5,230.07L423.6,230.07L423.7,230.07L423.8,230.07L423.9,230.06L424,230.06L424.1,230.06L424.2,230.05L424.3,230.05L424.4,230.05L424.5,230.04L424.6,230.04L424.7,230.03L424.8,230.03L424.9,230.02L425,230.02L425.1,230.01L425.2,230.01L425.3,230L425.4,230L425.5,229.99L425.6,229.98L425.7,229.97L425.8,229.97L425.9,229.96L426,229.95L426.1,229.94L426.2,229.94L426.3,229.93L426.4,229.92L426.5,229.91L426.6,229.9L426.7,229.89L426.8,229.89L426.9,229.88L427,229.87L427.1,229.86L427.2,229.85L427.3,229.84L427.4,229.83L427.5,229.82L427.6,229.81L427.7,229.8L427.8,229.79L427.9,229.78L428,229.77L428.1,229.76L428.2,229.75L428.3,229.74L428.4,229.73L428.5,229.72L428.6,229.71L428.7,229.69L428.8,229.68L428.9,229.67L429,229.66L429.1,229.65L429.2,229.64L429.3,229.63L429.4,229.62L429.5,229.61L429.6,229.59L429.7,229.58L429.8,229.57L429.9,229.55L430,229.54L430.1,229.52L430.2,229.51L430.3,229.49L430.4,229.47L430.5,229.46L430.6,229.44L430.7,229.42L430.8,229.41L430.9,229.39L431,229.37L431.1,229.35L431.2,229.33L431.3,229.31L431.4,229.29L431.5,229.27L431.6,229.25L431.7,229.23L431.8,229.21L431.9,229.19L432,229.17L432.1,229.14L432.2,229.12L432.3,229.1L432.4,229.08L432.5,229.05L432.6,229.03L432.7,229.01L432.8,228.98L432.9,228.96L433,228.93L433.1,228.91L433.2,228.88L433.3,228.86L433.4,228.83L433.5,228.81L433.6,228.78L433.7,228.76L433.8,228.73L433.9,228.7L434,228.67L434.1,228.65L434.2,228.62L434.3,228.59L434.4,228.56L434.5,228.53L434.6,228.5L434.7,228.46L434.8,228.43L434.9,228.4L435,228.36L435.1,228.33L435.2,228.29L435.3,228.26L435.4,228.22L435.5,228.18L435.6,228.15L435.7,228.11L435.8,228.07L435.9,228.03L436,227.99L436.1,227.94L436.2,227.9L436.3,227.86L436.4,227.81L436.5,227.77L436.6,227.72L436.7,227.67L436.8,227.63L436.9,227.58L437,227.53L437.1,227.48L437.2,227.42L437.3,227.37L437.4,227.32L437.5,227.26L437.6,227.2L437.7,227.14L437.8,227.08L437.9,227.01L438,226.94L438.1,226.87L438.2,226.8L438.3,226.72L438.4,226.65L438.5,226.57L438.6,226.49L438.7,226.4L438.8,226.32L438.9,226.23L439,226.14L439.1,226.05L439.2,225.95L439.3,225.86L439.4,225.76L439.5,225.66L439.6,225.56L439.7,225.45L439.8,225.35L439.9,225.24L440,225.13L440.1,225.02L440.2,224.9L440.3,224.77L440.4,224.65L440.5,224.51L440.6,224.37L440.7,224.22L440.8,224.07L440.9,223.91L441,223.75L441.1,223.58L441.2,223.4L441.3,223.21L441.4,223.01L441.5,222.81L441.6,222.59L441.7,222.36L441.8,222.12L441.9,221.86L442,221.59L442.1,221.3L442.2,221L442.3,220.67L442.4,220.33L442.5,219.96L442.6,219.57L442.7,219.14L442.8,218.63L442.9,218.06L443,217.43L443.1,216.76L443.2,216.03L443.3,215.2L443.4,214.23L443.5,213.21L443.6,212.19L443.7,211.16L443.8,210.09L443.9,209.09L444,208.07L444.1,206.79L444.2,205.13L444.3,202.92L444.4,199.89L444.5,194.64L444.6,186.75L444.7,176.5L444.78,165.7L444.8,163.12L444.85,156.64L444.88,152.72L444.9,150.1L444.9,150.1L444.92,152.72L444.95,156.64L445,163.12L445.02,165.7L445.1,176.5L445.2,186.75L445.3,194.64L445.4,199.89L445.5,202.92L445.6,205.13L445.7,206.79L445.8,208.07L445.9,209.09L446,210.09L446.1,211.16L446.2,212.19L446.3,213.21L446.4,214.23L446.5,215.2L446.6,216.03L446.7,216.76L446.8,217.43L446.9,218.06L447,218.63L447.1,219.14L447.2,219.57L447.3,219.96L447.4,220.33L447.5,220.67L447.6,221L447.7,221.3L447.8,221.59L447.9,221.86L448,222.12L448.1,222.36L448.2,222.59L448.3,222.81L448.4,223.01L448.5,223.21L448.6,223.4L448.7,223.58L448.8,223.75L448.9,223.91L449,224.07L449.1,224.22L449.2,224.37L449.3,224.51L449.4,224.65L449.5,224.77L449.6,224.9L449.7,225.02L449.8,225.13L449.9,225.24L450,225.35L450.1,225.45L450.2,225.56L450.3,225.66L450.4,225.76L450.5,225.86L450.6,225.95L450.7,226.05L450.8,226.14L450.9,226.23L451,226.32L451.1,226.4L451.2,226.49L451.3,226.57L451.4,226.65L451.5,226.72L451.6,226.8L451.7,226.87L451.8,226.94L451.9,227.01L452,227.08L452.1,227.14L452.2,227.2L452.3,227.26L452.4,227.32L452.5,227.37L452.6,227.42L452.7,227.48L452.8,227.53L452.9,227.58L453,227.63L453.1,227.67L453.2,227.72L453.3,227.77L453.4,227.81L453.5,227.86L453.6,227.9L453.7,227.94L453.8,227.99L453.9,228.03L454,228.07L454.1,228.11L454.2,228.15L454.3,228.18L454.4,228.22L454.5,228.26L454.6,228.29L454.7,228.33L454.8,228.36L454.9,228.4L455,228.43L455.1,228.46L455.2,228.5L455.3,228.53L455.4,228.56L455.5,228.59L455.6,228.62L455.7,228.65L455.8,228.67L455.9,228.7L456,228.73L456.1,228.76L456.2,228.78L456.3,228.81L456.4,228.83L456.5,228.86L456.6,228.88L456.7,228.91L456.8,228.93L456.9,228.96L457,228.98L457.1,229.01L457.2,229.03L457.3,229.05L457.4,229.08L457.5,229.1L457.6,229.12L457.7,229.14L457.8,229.17L457.9,229.19L458,229.21L458.1,229.23L458.2,229.25L458.3,229.27L458.4,229.29L458.5,229.31L458.6,229.33L458.7,229.35L458.8,229.37L458.9,229.39L459,229.41L459.1,229.42L459.2,229.44L459.3,229.46L459.4,229.47L459.5,229.49L459.6,229.51L459.7,229.52L459.8,229.54L459.9,229.55L460,229.57L460.1,229.58L460.2,229.59L460.3,229.61L460.4,229.62L460.5,229.63L460.6,229.64L460.7,229.65L460.8,229.66L460.9,229.67L461,229.68L461.1,229.69L461.2,229.71L461.3,229.72L461.4,229.73L461.5,229.74L461.6,229.75L461.7,229.76L461.8,229.77L461.9,229.78L462,229.79L462.1,229.8L462.2,229.81L462.3,229.82L462.4,229.83L462.5,229.84L462.6,229.85L462.7,229.86L462.8,229.87L462.9,229.88L463,229.89L463.1,229.89L463.2,229.9L463.3,229.91L463.4,229.92L463.5,229.93L463.6,229.94L463.7,229.94L463.8,229.95L463.9,229.96L464,229.97L464.1,229.97L464.2,229.98L464.3,229.99L464.4,230L464.5,230L464.6,230.01L464.7,230.01L464.8,230.02L464.9,230.02L465,230.03L465.1,230.03L465.2,230.04L465.3,230.04L465.4,230.05L465.5,230.05L465.6,230.05L465.7,230.06L465.8,230.06L465.9,230.06L466,230.07L466.1,230.07L466.2,230.07L466.3,230.07L466.4,230.07L466.5,230.07L466.6,230.07L466.7,230.07L466.8,230.07L466.9,230.06L467,230.06L467.1,230.06L467.2,230.06L467.3,230.05L467.4,230.05L467.5,230.05L467.6,230.04L467.7,230.04L467.8,230.03L467.9,230.03L468,230.02L468.1,230.02L468.2,230.01L468.3,230L468.4,230L468.5,229.99L468.6,229.99L468.7,229.98L468.8,229.97L468.9,229.96L469,229.96L469.1,229.95L469.2,229.94L469.3,229.93L469.4,229.92L469.5,229.92L469.6,229.91L469.7,229.9L469.8,229.89L469.9,229.88L470,229.87L470.1,229.86L470.2,229.85L470.3,229.84L470.4,229.83L470.5,229.82L470.6,229.81L470.7,229.8L470.8,229.79L470.9,229.78L471,229.77L471.1,229.76L471.2,229.75L471.3,229.74L471.4,229.73L471.5,229.72L471.6,229.71L471.7,229.7L471.8,229.69L471.9,229.68L472,229.67L472.1,229.66L472.2,229.65L472.3,229.64L472.4,229.62L472.5,229.61L472.6,229.6L472.7,229.59L472.8,229.57L472.9,229.56L473,229.54L473.1,229.53L473.2,229.51L473.3,229.5L473.4,229.48L473.5,229.47L473.6,229.45L473.7,229.43L473.8,229.42L473.9,229.4L474,229.38" stroke="#0000ff" stroke-width="2.5"/>
</g>
<rect x="331.8" y="141.5" width="142.2" height="93.4" fill="none" stroke="#000" stroke-width="2.0"/>
<text x="481.6" y="240.45" text-anchor="start" font-size="14.8" >0</text>
<line x1="474" y1="203.55" x2="470.3" y2="203.55" stroke="#000" stroke-width="1.8"/>
<text x="481.6" y="209.1" text-anchor="start" font-size="14.8" >1</text>
<line x1="474" y1="172.2" x2="470.3" y2="172.2" stroke="#000" stroke-width="1.8"/>
<text x="481.6" y="177.75" text-anchor="start" font-size="14.8" >2</text>
<line x1="402.8" y1="141.5" x2="402.8" y2="145.2" stroke="#000" stroke-width="1.8"/>
<text x="339.1" y="154.5" text-anchor="start" font-size="11.9" class="b">c</text>
<text transform="translate(506.2 188.8) rotate(-90)" text-anchor="middle" font-size="14.8"><tspan class="it">n</tspan>/<tspan class="it">n</tspan><tspan class="it" font-size="10.36" dy="2.6">c</tspan></text>
<text x="331.8" y="29.4" text-anchor="middle" font-size="14.8" >0</text>
<text x="402.8" y="29.4" text-anchor="middle" font-size="14.8" >1</text>
<text x="473.8" y="29.4" text-anchor="middle" font-size="14.8" >2</text>
<text x="402.6" y="11.6" text-anchor="middle" font-size="14.8"><tspan class="it">λ</tspan><tspan font-size="10.36" dy="3.1">0</tspan></text>
<g clip-path="url(#cd)" fill="none" stroke-linejoin="round">
<line x1="393.2" y1="338.4" x2="393.2" y2="253" stroke="#800080" stroke-width="2.2" stroke-dasharray="2.2 8.16"/>
<line x1="419.4" y1="338.1" x2="419.4" y2="242.6" stroke="#0000ff" stroke-width="2.2" stroke-dasharray="8.3 9.1"/>
<path d="M395,337L398,336.8L402.3,336L405,335.2L408.1,333.8L410.5,332L412.5,329.4L414.5,326.3L416.8,322.8L418.5,320.6L419.7,319.2L421,317.6L422,316.3L423.2,313.4L424.4,306.3L425.5,311.4L426.3,303L427.1,270L427.7,252.3L428.3,268L429.2,288L430,296L430.7,299.2L431.6,294.5L432.6,288.2L433.6,283.6L434.4,292L435.2,302L436,309L436.8,308L437.6,306.6L438.4,305.9L439.2,306.4L440,305.4L440.7,308L441.6,313.6L442.8,316L444.2,317.6L445.4,315.4L446.3,315L447.2,318.4L448.2,320.2L449.6,318.6L450.6,320L451.8,321.6L453.2,320.8L454.6,322.4L456.2,323.6L458,324L459.6,323.6L461.2,324.2L463.4,324L464.8,325L466.4,325.8L468,325.2L470,326L472,326.4L473.8,327" stroke="#ff9214" stroke-width="1.55"/>
<path d="M395,337L398,336.8L402.3,336L405,335.2L408.1,333.8L410.5,332L412.5,329.4L414.5,326.3L416.8,322.8L418.5,320.6L419.7,319.2L421.5,318.4L423.4,317.7L424.8,316.4L426.3,314.1L427,308L427.7,300.8L428.4,306.5L429.2,311.2L430.2,309.6L431.4,307.6L432.6,305.8L433.2,305.4L434,308.5L435,314.8L436,315.2L437.2,314.2L438.6,315.6L440.1,317.7L442,319.8L444.5,322.1L447,323.3L450.3,324.6L454,325.6L457.6,326.5L461,327.2L464.9,327.7L469,328.4L473.8,329" stroke="#2a902a" stroke-width="1.55"/>
</g>
<rect x="331.8" y="244.6" width="142.2" height="93.1" fill="none" stroke="#000" stroke-width="2.0"/>
<line x1="474" y1="303.6" x2="470.3" y2="303.6" stroke="#000" stroke-width="1.8"/>
<text x="481.6" y="309.15" text-anchor="start" font-size="14.8" >5</text>
<line x1="474" y1="267.2" x2="470.3" y2="267.2" stroke="#000" stroke-width="1.8"/>
<text x="481.6" y="272.75" text-anchor="start" font-size="14.8" >10</text>
<line x1="370.85" y1="337.7" x2="370.85" y2="333.3" stroke="#000" stroke-width="1.8"/>
<text x="370.85" y="356" text-anchor="middle" font-size="14.8" >0.5</text>
<line x1="409.9" y1="337.7" x2="409.9" y2="333.3" stroke="#000" stroke-width="1.8"/>
<text x="409.9" y="356" text-anchor="middle" font-size="14.8" >1.0</text>
<line x1="448.95" y1="337.7" x2="448.95" y2="333.3" stroke="#000" stroke-width="1.8"/>
<text x="448.95" y="356" text-anchor="middle" font-size="14.8" >1.5</text>
<text x="339.1" y="257.4" text-anchor="start" font-size="11.9" class="b">d</text>
<text x="402.7" y="374.8" text-anchor="middle" font-size="14.8" >Time [ps]</text>
<text transform="translate(515.0 291.15) rotate(-90)" text-anchor="middle" font-size="14.8"><tspan class="it">n</tspan><tspan font-size="10.36" dy="2.6">max</tspan><tspan dy="-2.6">/</tspan><tspan class="it">n</tspan><tspan class="it" font-size="10.36" dy="2.6">c</tspan></text>
<line x1="533.6" y1="222.2" x2="564" y2="222.2" stroke="#ff0000" stroke-width="1.6" stroke-dasharray="8.1 1.9 1.6 1.6"/>
<line x1="533.6" y1="245.3" x2="564" y2="245.3" stroke="#0000ff" stroke-width="1.45"/>
<line x1="533.6" y1="268" x2="564" y2="268" stroke="#ff9214" stroke-width="1.45"/>
<line x1="533.6" y1="290.8" x2="564" y2="290.8" stroke="#2a902a" stroke-width="1.45"/>
<line x1="533.6" y1="312.9" x2="564" y2="312.9" stroke="#800080" stroke-width="2.2" stroke-dasharray="2.2 8.16"/>
<line x1="533.6" y1="334.8" x2="564" y2="334.8" stroke="#0000ff" stroke-width="2.2" stroke-dasharray="8.3 9.1"/>
<text x="575.9" y="225.9" font-size="14.8"><tspan class="it">n</tspan><tspan font-size="10.36" dy="2.6">i</tspan><tspan dy="-2.6"> (t = 0.0 ps)</tspan></text>
<text x="575.9" y="248.9" font-size="14.8"><tspan class="it">n</tspan><tspan font-size="10.36" dy="2.6">i</tspan><tspan dy="-2.6"> (t = 1.12 ps)</tspan></text>
<text x="575.9" y="271.9" font-size="14.8">max(<tspan class="it">n</tspan><tspan class="it" font-size="10.36" dy="2.6">i</tspan><tspan dy="-2.6">)</tspan></text>
<text x="575.9" y="294.9" font-size="14.8">max(<tspan class="it">n</tspan><tspan class="it" font-size="10.36" dy="2.6">e</tspan><tspan dy="-2.6">)</tspan></text>
<text x="575.9" y="317.9" font-size="14.8"><tspan class="it">T</tspan><tspan font-size="10.36" dy="2.6">0</tspan><tspan dy="-2.6"> = 0.79 ps</tspan></text>
<text x="575.9" y="340.7" font-size="14.8"><tspan class="it">T</tspan><tspan font-size="10.36" dy="2.6">1</tspan><tspan dy="-2.6"> = 1.12 ps</tspan></text>
<g style="mix-blend-mode:multiply"><rect x="0" y="0" width="1" height="1" fill="#fff"/></g>
</svg></body></html>
